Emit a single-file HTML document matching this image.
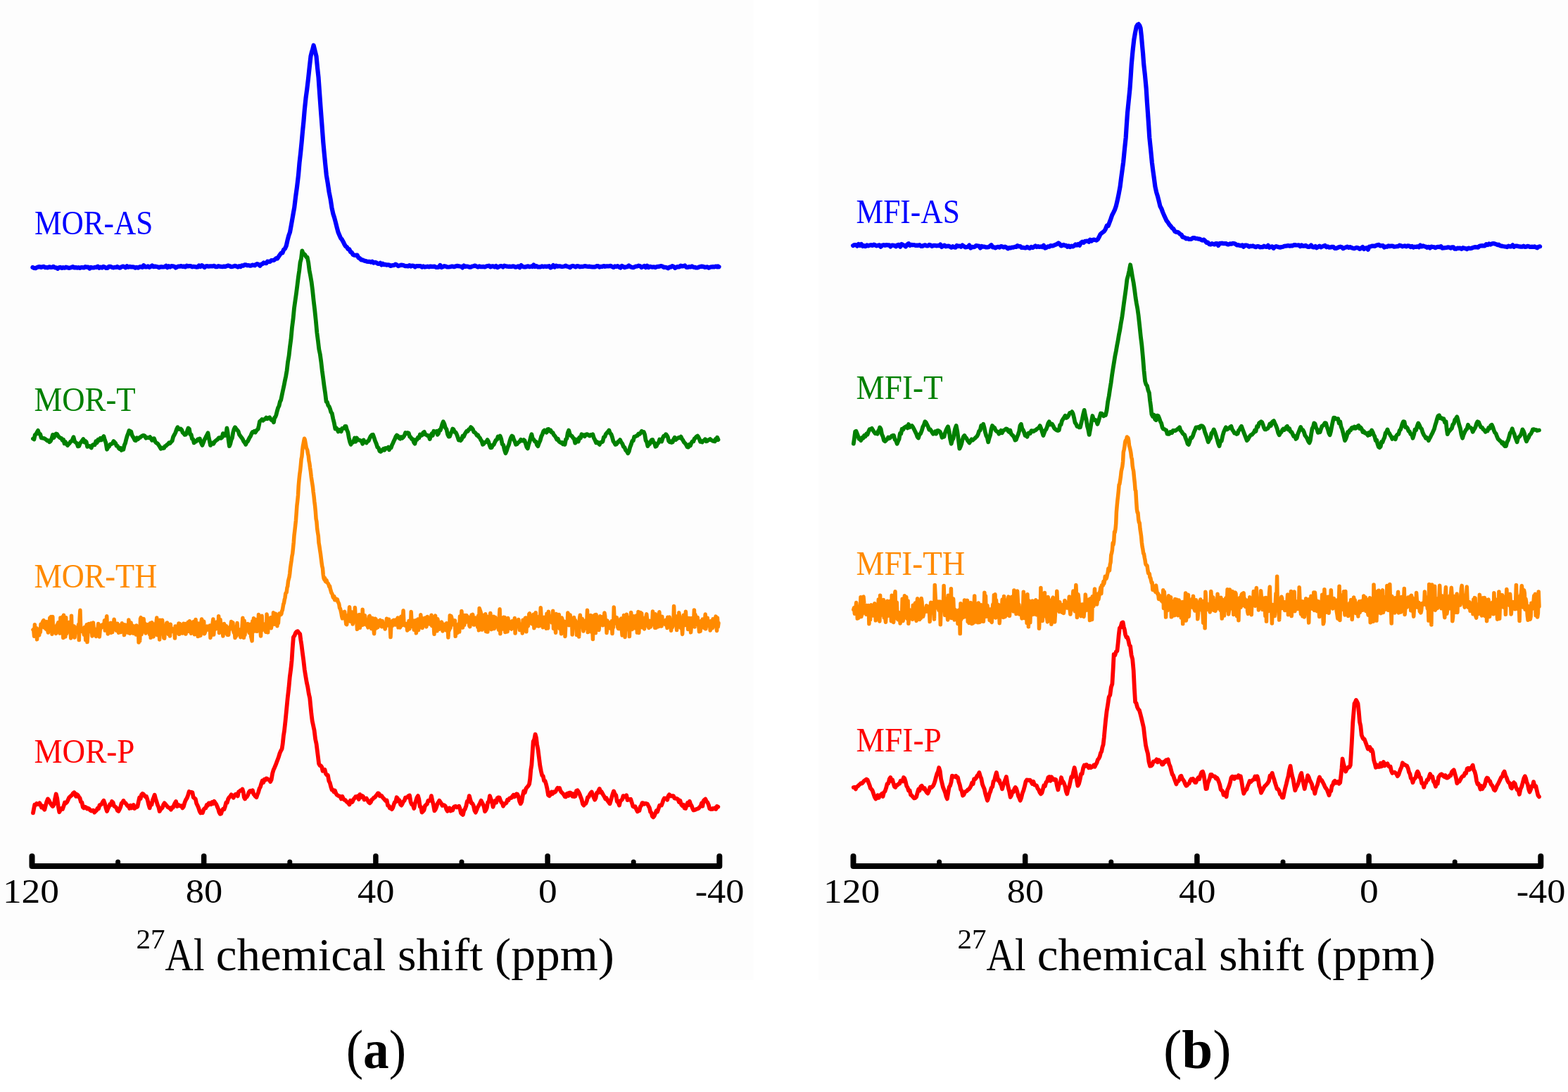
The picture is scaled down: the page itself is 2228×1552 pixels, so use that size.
<!DOCTYPE html>
<html><head><meta charset="utf-8"><title>27Al NMR spectra</title>
<style>html,body{margin:0;padding:0;background:#fff;}svg{display:block;}</style>
</head><body>
<svg width="2228" height="1552" viewBox="0 0 2228 1552" font-family='"Liberation Serif", "DejaVu Serif", serif'>
<rect width="2228" height="1552" fill="#fff"/>
<rect x="0" y="0" width="1071" height="1393" fill="#fdfdfd"/>
<rect x="1163" y="0" width="1065" height="1393" fill="#fdfdfd"/>
<g fill="none" stroke-linejoin="round" stroke-linecap="round">
<path d="M46.5,380 48.5,381 50.4,381.2 52.4,380.1 54.4,379.4 56.3,379.1 58.3,380 60.3,379.2 62.2,378.9 64.2,380.2 66.2,380.1 68.1,380.4 70.1,379.3 72.1,380 74,379.9 76,378.8 78,380.4 79.9,380.3 81.9,381.9 83.9,380.2 85.8,379.9 87.8,381 89.8,380.2 91.8,380.7 93.7,379.7 95.7,380.2 97.7,380.8 99.6,380.6 101.6,380.1 103.6,379.1 105.5,380.4 107.5,380.1 109.5,380.6 111.4,380.2 113.4,380.9 115.4,380 117.3,380.2 119.3,380.5 121.3,379.1 123.2,379.7 125.2,379.6 127.2,381.6 129.1,379.9 131.1,380.5 133.1,380.5 135,379.8 137,380 139,378.7 141,380.7 142.9,379.6 144.9,380.5 146.9,378.9 148.9,379.6 150.8,380.9 152.8,381 154.8,378.8 156.8,378.8 158.8,379.8 160.7,380.4 162.7,379.9 164.7,380 166.7,379 168.6,380.2 170.6,380.6 172.6,379.4 174.6,378.5 176.6,379.1 178.5,380.3 180.5,378.3 182.5,379.6 184.5,378.8 186.4,379.5 188.4,379.4 190.4,379.6 192.4,380.7 194.3,379.9 196.3,380.6 198.3,379.4 200.3,379.1 202.3,379.8 204.2,377.2 206.2,379.4 208.2,379.5 210.2,378.4 212.1,379.8 214.1,378.9 216.1,377.4 218.1,379.2 220.1,378.5 222,378.9 224,379.2 226,380.3 228,379.3 229.9,379.2 231.9,379.5 233.9,379.2 235.9,377.7 237.8,380.1 239.8,378.3 241.7,379.5 243.7,378.2 245.6,378.3 247.6,378.7 249.6,380.5 251.5,379.5 253.5,378.5 255.4,378.7 257.4,378 259.3,378.9 261.3,378.4 263.3,379.4 265.2,377.7 267.2,378.5 269.1,378.1 271.1,378.2 273.1,379.3 275,378.8 277,379.1 278.9,379.6 280.9,379.5 282.8,377.5 284.8,379 286.8,377.1 288.7,378.5 290.7,380 292.6,378.3 294.6,378.2 296.5,378.6 298.5,378.4 300.5,378.4 302.5,378.4 304.4,377.8 306.4,379.2 308.4,379.1 310.4,378.2 312.3,378.6 314.3,378.9 316.3,379.1 318.3,378.6 320.2,378.9 322.2,378.1 324.2,377.4 326.2,377.9 328.1,379.1 330.1,379 332.1,378.4 334.1,377.8 336,378.5 338,379.5 340,378.2 341.9,379.1 343.7,377.3 345.6,377.7 347.4,376.4 349.3,376.4 351.2,377.3 353,377 354.9,377.6 356.7,377.7 358.6,376.5 360.4,377 362.2,377.3 364,375.6 365.8,375 367.6,376.2 369.4,377.8 371.2,375.5 373,375.2 374.7,373.4 376.5,373.9 378.3,374.2 380,371.7 381.8,371.9 383.7,371.9 385.5,370.1 387.4,370 389.1,370 390.7,368.6 392.4,367.2 394,367.6 395.7,365 397.6,362.3 399.4,359.8 401.3,359.5 403.1,354.9 405,353.3 406.8,349.2 408.5,341.6 410.2,335 412,330 413.6,321.3 415.1,312.8 416.6,304.1 418.2,295.3 420.1,279.7 422.1,265.2 424,248.9 425.5,231.5 427.1,217.5 428.6,202.4 430,186.7 431.4,172.9 432.8,156 434.5,139.7 436.3,126.4 438,112 439.8,95.1 441.5,80 442.9,74.3 444.2,70.2 445.6,64.5 447.6,72.6 449.5,80 451,96 452.5,109.6 454.1,132.3 455.8,156 457.6,179.4 459.3,202.4 460.8,218.8 462.3,234.1 463.8,248.9 465.7,260.2 467.6,273 469.6,283 471.5,295.3 473.3,303.7 475.1,309.3 476.9,316 478.7,323.3 480.5,330 482.3,334.2 484.1,338.4 485.9,340.4 487.7,343.7 489.5,347.5 491.2,350.1 492.8,351.1 494.5,354 496.3,354.4 498.1,358.1 499.8,358.9 501.6,361.8 503.4,362.6 505.4,362.9 507.4,362.5 509.4,366.2 511.4,367.3 513.4,369.5 515.4,369.4 517.4,370.4 519.3,370.9 521.3,371.7 523.3,371.9 525.2,371.9 527.1,372.6 528.9,371.7 530.8,373.5 532.7,372.8 534.6,373.3 536.4,374.6 538.3,375 540.2,373.8 542.1,376.5 543.9,374.7 545.8,376.2 547.7,375.8 549.5,376.7 551.2,376.3 553,376.5 554.7,377.9 556.5,377.4 558.2,377.2 560,377 562,375.6 564,376.5 565.9,378.1 567.9,377.4 569.9,376.6 571.9,376.9 573.9,377.3 575.8,378.1 577.8,378 579.8,378.5 581.8,377.1 583.8,378.6 585.8,377.5 587.7,377.8 589.7,379.5 591.7,378.2 593.7,378.1 595.7,378.1 597.6,378 599.6,379.7 601.6,378.5 603.6,379.6 605.6,379.1 607.6,378.7 609.5,379.3 611.5,378.5 613.5,378.9 615.5,378.8 617.5,378.6 619.5,379.8 621.4,379.9 623.4,379.6 625.4,377 627.4,380 629.4,379.1 631.4,378.2 633.3,378.5 635.3,379.5 637.3,379.5 639.3,379.2 641.3,378.7 643.3,378.6 645.2,379.2 647.2,378.5 649.2,377.9 651.2,378.1 653.2,378.5 655.2,378.8 657.2,380.4 659.1,377.5 661.1,379 663.1,378.5 665.1,378.8 667.1,379.7 669.1,379.6 671,378.5 673,378.2 675,377.5 677,378.6 679,379.6 681,378.4 682.9,379.2 684.9,379.2 686.9,378.9 688.9,379.5 690.9,378.5 692.9,378 694.8,377.7 696.8,379.4 698.8,378.4 700.8,378.4 702.8,379.3 704.8,378 706.8,380.1 708.7,379.2 710.7,378.2 712.7,378.2 714.7,379.5 716.7,377.7 718.7,378.2 720.6,378.7 722.6,378.8 724.6,378.7 726.6,379 728.6,378.4 730.6,378.6 732.5,379.7 734.5,379.2 736.5,378.3 738.5,380.1 740.5,377.1 742.5,378.8 744.4,379.3 746.4,379.5 748.4,378.8 750.4,378.4 752.4,379.2 754.4,378.6 756.4,379.1 758.3,376.5 760.3,379 762.3,378.1 764.3,379.5 766.3,379.3 768.3,379.3 770.2,378.4 772.2,379.1 774.2,378.5 776.2,378.9 778.2,378.7 780.2,378.1 782.1,380.4 784.1,379.4 786.1,377.1 788.1,379.5 790.1,377.7 792.1,378.6 794,378.3 796,378.4 798,379 800,378.8 802,378.5 804,377.7 806,378.8 808,379.1 810,380.2 811.9,378.5 813.9,377.9 815.9,378.5 817.9,379.4 819.9,378.1 821.9,378.3 823.9,379.3 825.9,378.9 827.9,379 829.9,378.4 831.9,378.2 833.8,378.6 835.8,378.8 837.8,378.6 839.8,379.2 841.8,379.3 843.8,379.3 845.8,379.3 847.8,378.2 849.8,378 851.8,379.6 853.8,378.9 855.7,379 857.7,378 859.7,378.8 861.7,378.4 863.7,378.3 865.7,378.4 867.7,377.8 869.7,379 871.7,379.9 873.7,378.4 875.7,379 877.6,378.1 879.6,379.5 881.6,380.5 883.6,378 885.6,378.8 887.6,380.1 889.6,379.3 891.6,379.1 893.6,377.4 895.6,378.9 897.6,379.8 899.5,380.2 901.5,379.5 903.5,378.6 905.5,378.5 907.5,377.6 909.5,378.2 911.5,380 913.5,379 915.5,378 917.5,380.1 919.5,377.7 921.4,380.1 923.4,378.8 925.4,379.4 927.4,379.6 929.4,379.3 931.4,380.1 933.4,379.1 935.4,378.8 937.4,378.6 939.4,378 941.4,378.6 943.3,379.9 945.3,379.8 947.3,380.2 949.3,381.3 951.3,379.7 953.3,379.6 955.3,378.1 957.3,379 959.3,380.9 961.3,379.6 963.3,379.1 965.2,379.4 967.2,377.7 969.2,378.5 971.2,378.1 973.2,377.5 975.2,379.8 977.2,380 979.2,379.1 981.2,379.5 983.2,378.4 985.2,379.6 987.1,379.8 989.1,380.5 991.1,380.5 993.1,379.6 995.1,379.1 997.1,378.6 999.1,378.8 1001.1,379.8 1003.1,379.7 1005.1,379.3 1007.1,380.6 1009,379.8 1011,379.3 1013,379.1 1015,379.4 1017,378.5 1019,379.3 1020.2,378.5 1021.5,379.2" stroke="#0000ff" stroke-width="6.2"/>
<path d="M47,623.5 48.4,624.5 49.8,617.9 51.2,617.1 52.6,614.4 54,611.9 55.6,616.6 57.1,616.9 58.7,622.4 60.2,622.5 61.6,622.8 63,623.1 64.5,624.1 66,625.3 67.4,626.3 68.8,626.2 70.3,628.2 71.9,626.8 73.4,623.5 75,617.9 76.6,622.1 78.1,617.9 79.7,616.5 81.2,617 82.7,619.9 84.1,621.3 85.6,622.5 87.1,622.8 88.6,625.7 90.1,624.8 91.6,630.4 93,628.1 94.5,631.1 96,632.9 97.4,631.3 98.8,629.9 100.2,627.6 101.6,627 103,624.7 104.5,621.2 106.1,627.5 107.7,628.9 109.2,630.1 110.8,634.4 112.3,634 113.9,629.8 115.4,628.3 117,625.9 118.4,624 119.8,628.4 121.3,626.9 122.7,628.2 124.1,634.9 125.5,633.7 127,633.9 128.4,635.3 129.8,636.4 131.4,632.7 133,631.7 134.6,632.3 136.2,627.3 137.8,629.1 139.4,624.8 141,625.9 142.6,622.7 144.2,625.3 145.8,622.7 147.4,620 148.9,625.3 150.5,629.6 152,638.7 153.6,635.5 155.1,634.5 156.7,631.3 158.3,631.1 159.8,630.2 161.4,627 162.8,628.6 164.2,630 165.6,633.6 167,633.9 168.4,636.4 169.8,637.9 171.2,636.7 172.6,639.9 174,637.7 175.4,638.7 176.8,632.5 178.1,629.7 179.4,624.2 180.8,619.3 182.2,616 183.5,611.9 184.9,615.1 186.2,613.3 187.6,618.7 189,620.8 190.3,623.2 191.7,625.9 193.1,626.1 194.5,622.3 196,624.3 197.4,622.3 198.8,622 200.2,620.7 201.7,619.8 203.1,618.8 204.5,618.9 205.9,619.8 207.4,622.7 208.8,621.8 210.2,622 211.7,622.1 213.1,621.1 214.5,623.2 216,625.8 217.4,623.5 219,623.1 220.6,627.8 222.2,629.6 223.8,630.2 225.4,632.5 227,635 228.6,637.8 230.2,636.4 231.6,637.2 233,636.8 234.5,634 235.9,633.8 237.3,632 238.7,631.3 240.2,629.3 241.6,630 243,628.2 244.6,626.7 246.1,620.9 247.7,618 249.3,615 250.8,610.6 252.4,607.2 253.8,609.8 255.3,610.1 256.8,609.4 258.2,610.9 259.6,614.7 261.1,615.9 262.6,617.9 264,617.7 265.2,614.9 266.3,611.7 267.5,608.4 268.9,609.6 270.2,617.3 271.6,617.5 273,623.8 274.3,624.2 275.7,629.4 277.1,627.4 278.4,627.6 279.8,625.8 281.2,624.4 282.5,625.7 283.9,623.5 285.1,627.5 286.2,630.3 287.4,632.9 288.8,629.5 290.1,625.9 291.4,623.4 292.8,620.5 294.1,618.2 295.5,615.4 296.7,622.3 297.8,626.8 299,632.9 300.5,630.4 301.9,629.4 303.4,630.7 304.9,627.9 306.3,626.6 307.8,625.4 309.2,624.5 310.7,622.4 312.2,622 313.8,622.9 315.4,621.8 316.9,616.1 318.4,619.3 320,618.9 321.2,617.8 322.4,608.4 323.6,615.1 324.7,625.6 325.9,634 327.2,631 328.6,625.1 329.9,622.5 331.3,614.3 332.6,609.9 334,607.2 335.5,609.4 337,611.1 338.6,613 340.1,617.8 341.6,619.8 343.1,621.9 344.6,623.8 346.2,627.2 347.7,629.1 349.2,631.7 350.6,628.1 351.9,627.4 353.3,624.6 354.7,621.7 356,620 357.4,616.5 358.8,614 360.1,614.4 361.4,612.9 362.8,614.5 364.1,612.4 365.5,610.7 366.7,609.8 367.8,605.1 369,599 370.6,597.8 372.1,596.2 373.7,597.7 375.2,596 376.8,595.6 378.3,593.6 379.9,595.3 381.4,594.1 383,593.2 384.5,595.5 385.9,597.1 387.4,597.2 388.9,600.2 390.1,593.6 391.2,592.8 392.4,589.7 393.8,584.1 395.1,579.6 396.5,577 397.9,570.9 399.2,568.5 400.6,561.7 402,555 403.4,548.7 404.8,541.4 406.2,534.8 407.6,526.7 409.1,513.9 410.5,506.1 411.9,493.6 413.4,482.4 414.9,466.2 416.5,453.7 418,438 419.5,427.4 420.9,417.7 422.4,405.8 423.9,393.7 425.2,384.9 426.6,372.7 427.9,368 429.3,356.3 430.8,360.3 432.3,361.1 433.7,362.6 435.2,365.5 436.7,365.7 438.2,373.2 439.6,384.2 441.1,392 442.6,400.7 444.1,412.5 445.7,427.7 447.2,440.4 448.8,455.7 450.3,472.3 451.9,484.7 453.3,496.5 454.8,503.5 456.2,513.5 457.7,526.7 459.2,537.7 460.6,548.6 462.1,558.6 463.6,571 465,571.7 466.3,576.2 467.6,577.6 469,581 470.4,585.9 471.7,587.4 473.3,595.1 474.8,601.1 476.4,609.5 477.8,608.4 479.2,610.2 480.6,613.4 482,610.7 483.4,611.9 484.8,613.3 486.1,608.8 487.5,608.7 488.9,608.9 490.2,605.9 491.6,606 493,611.2 494.4,614.4 495.8,622.3 497.2,628.2 498.6,631.7 500,629.2 501.3,628.9 502.6,626.5 504,622.5 505.4,627.8 506.7,622.4 508.1,624.2 509.5,625.4 511,625.7 512.4,626.3 513.8,627 515.2,630.8 516.6,625.4 517.9,628 519.3,628.3 520.7,629.4 522.2,627.2 523.8,626.5 525.4,622.5 526.9,619.7 528.5,618.1 530,617.7 531.6,622.2 533.1,626.8 534.7,630.5 536.3,635.5 537.8,636.4 539.4,641 540.8,641.9 542.1,640.9 543.5,639.2 544.9,637.9 546.3,639.7 547.6,637 549,637.4 550.3,636.8 551.7,635.6 553,639.2 554.4,636.4 555.7,636.3 557,632.5 558.4,629.7 559.7,626.6 561.1,623.9 562.4,620.6 563.9,618.6 565.4,619.7 566.9,622.4 568.4,623.6 569.9,621 571.4,622.8 573,621.4 574.6,618.9 576.1,614.9 577.7,616.1 579.3,615 580.7,615.7 582.2,620.7 583.6,621.4 585.1,623.9 586.5,624.2 588,628.7 589.4,630.7 590.9,625 592.4,625 593.9,621.7 595.4,622.3 596.9,617.4 598.3,619 599.8,618.5 601.3,614.9 602.8,613.9 604.4,617.5 606,618.1 607.5,619.3 609.1,619.2 610.7,624 612.1,619.7 613.5,616.3 614.9,618.9 616.3,612.7 617.6,613.7 619,613.8 620.3,612.8 621.7,617.8 623,616.1 624.4,611.1 625.7,611.5 627.1,607.5 628.4,602.8 629.8,599.3 631.4,602.6 632.9,607.8 634.5,610.2 636,617.2 637.6,620.6 639,620.2 640.4,616.2 641.8,613.7 643.2,609.4 644.6,610.5 646,614 647.4,614.3 648.9,617.2 650.3,620.9 651.7,625.5 653.1,624.2 654.5,626.2 656,624.3 657.4,619.7 658.9,620.7 660.3,617.3 661.8,614.7 663.2,612.7 664.6,613 666.1,610.4 667.5,610 669,607.1 670.4,608.4 671.9,610.3 673.3,614 674.8,614.6 676.2,616.2 677.7,618.8 679.1,618.3 680.5,621.3 681.8,622.3 683.2,625.3 684.5,626.9 685.9,631.8 687.2,631 688.6,628.6 689.9,628.5 691.3,627.6 692.6,625.1 694.1,627.7 695.6,632.8 697.1,636.3 698.6,636.2 700.1,632.7 701.6,632 703.1,628.6 704.6,625.6 706.1,624.8 707.6,620.6 709.1,622.4 710.6,619.5 712.2,623.7 713.7,631.3 715.3,632.6 716.8,639.4 718.4,644.2 719.9,640.6 721.4,635.7 722.9,632.4 724.4,626.7 725.9,622.1 727.4,619.5 728.8,620.6 730.2,624.9 731.6,627.6 733,631.8 734.4,631.3 735.8,629.6 737.2,628.4 738.6,627.4 740,624.9 741.4,626.3 742.8,626.5 744.2,625.1 745.6,626.3 747,630.9 748.4,635.3 749.8,637.4 751.2,631.4 752.6,627.6 754,621.6 755.4,617.2 756.9,623.5 758.4,624.8 759.9,627.3 761.4,627.5 762.9,632.2 764.4,634.1 766,629.6 767.6,626.1 769.1,620.4 770.7,617.2 772.3,612.7 773.7,611.5 775.2,612.8 776.6,614.7 778.1,610.1 779.5,610 781,612.5 782.4,611.6 783.9,614.6 785.4,614.8 786.9,618 788.4,619.7 789.8,621.7 791.3,624.8 792.8,623.7 794.3,627.5 795.8,628.4 797.2,629.4 798.5,628.8 799.9,631.2 801.2,629.3 802.6,631.8 804,624.6 805.4,623.2 806.8,615.1 808.2,611.6 809.7,617 811.2,619.1 812.7,619.9 814.2,622.3 815.7,623.4 817.2,629.6 818.7,628.1 820.3,624.4 821.8,627.6 823.4,621.6 824.9,622.6 826.4,617.2 828,619.2 829.5,618.3 830.9,620.2 832.3,617.7 833.7,617.1 835.1,617.6 836.5,618.8 837.9,619.6 839.3,618 840.7,618.3 842.3,617.3 843.9,622.6 845.5,625.5 847.1,629.3 848.7,628.2 850.3,630.1 851.9,631.8 853.4,628.8 854.9,628.4 856.4,627.6 857.9,621.4 859.4,620.7 860.9,616.8 862.4,615.1 863.9,613.6 865.4,611.6 866.9,615.7 868.4,617.1 869.9,621.3 871.4,627 872.9,629.1 874.4,631.8 875.7,631.5 877.1,629.7 878.4,627.5 879.8,627 881.1,625.1 882.7,628.6 884.3,630.5 885.9,634.7 887.5,636 889.1,640 890.7,641.5 892.3,644.2 893.8,641.3 895.3,635.4 896.8,631.6 898.3,626.8 899.8,626.2 901.3,620.6 902.8,620.6 904.3,619.4 905.8,619.2 907.3,616.4 908.8,617 910.3,615.4 911.8,612.7 913.3,614.3 914.8,613.9 916.2,617.7 917.6,626 919,628 920.4,634.1 921.8,631 923.2,631 924.6,627.3 926,625.1 927.3,625 928.7,629 930,629.4 931.4,634.7 932.7,634.1 934.2,630.7 935.7,629.3 937.2,624.5 938.7,625.6 940.2,627.4 941.7,622.6 943.2,619.6 944.7,619.5 946.2,617.2 947.5,618.8 948.9,621.2 950.2,626.8 951.6,628.2 952.9,627.3 954.4,628.9 955.8,628.3 957.3,624 958.7,621.8 960.2,625 961.7,623.8 963.1,622.7 964.6,621.8 966,622.3 967.5,620.6 969,623.8 970.5,625.8 972,628.6 973.5,630 975,632.2 976.5,635.2 978,635.6 979.4,631.7 980.9,633.3 982.3,629.8 983.8,627.4 985.3,627.4 986.7,623.5 988.2,622.4 989.6,620.6 991.1,619.5 992.4,621.3 993.8,624 995.1,627.8 996.5,627.4 997.8,628.4 999.2,626.3 1000.6,626.1 1002,624.2 1003.4,627.2 1004.8,626.9 1006.2,625.6 1007.6,625.1 1009,624 1010.4,625.4 1011.7,625.9 1013.1,626.9 1014.4,627 1015.8,627.3 1016.9,624 1018,624.9 1019.1,621.7 1020.5,625" stroke="#008000" stroke-width="5.8"/>
<path d="M47,895 47.8,895.7 48.6,904.3 49.4,887.8 50.2,902.2 51,892.8 51.8,892.7 52.6,908.8 53.4,895.7 54.1,894.1 54.9,899.9 55.7,902.8 56.5,894 57.3,898.6 58.1,886.9 58.9,891.3 59.7,890.8 60.5,884 61.3,882.6 62.1,881.7 62.9,892 63.7,892.4 64.5,891.3 65.3,894.1 66.1,883.5 66.8,892.9 67.6,895.2 68.4,899 69.2,887 70,890.3 70.8,878.1 71.6,889.4 72.4,876.6 73.2,882.4 74,901.2 74.8,876.4 75.6,898.8 76.4,895.2 77.2,890.4 78,896.1 78.8,896.6 79.6,900.4 80.3,890.8 81.1,888 81.9,887.8 82.7,884.9 83.5,891.9 84.3,886.3 85.1,900.1 85.9,878 86.7,892 87.5,883.9 88.3,885 89,876.5 89.8,906.5 90.6,874.3 91.4,890.3 92.1,888.5 92.9,905 93.7,877.7 94.5,900.7 95.2,887.2 96,891.6 96.8,887.8 97.6,897.7 98.3,884.5 99.1,892.5 99.9,895.8 100.7,907 101.5,875.2 102.2,904.8 103,900.5 103.8,889.8 104.6,895.8 105.3,890.1 106.1,906 106.9,895.3 107.7,892.2 108.4,892.2 109.2,892.4 110,894 110.8,892.7 111.6,887.5 112.3,909.6 113.1,879.9 113.9,867.3 114.7,893.5 115.4,893.4 116.2,897.3 117,893.1 117.8,893.6 118.5,897.2 119.3,902.1 120.1,891.5 120.9,892.1 121.7,909.6 122.4,899 123.2,887.7 124,912.6 124.8,901.1 125.5,890.9 126.3,886.6 127.1,897.7 127.9,889.3 128.6,887.7 129.4,885.9 130.2,891.9 131,904.1 131.7,892.6 132.5,885.1 133.3,896 134.1,900.9 134.9,896.2 135.7,901.9 136.5,904.5 137.3,894.1 138.1,894.1 138.9,894.7 139.7,886.4 140.5,899.8 141.3,905 142.1,895.9 142.9,892.6 143.7,892.3 144.5,888.3 145.3,888 146.1,890.9 146.9,887.4 147.7,890.4 148.5,881.7 149.3,896 150.1,893.6 150.9,884.5 151.7,875.7 152.5,892.8 153.3,901 154.1,887.1 154.9,888.8 155.7,888.1 156.5,897.1 157.3,885.2 158.1,899.3 158.9,889.5 159.7,898.6 160.5,891.8 161.3,889.7 162.1,880.2 162.9,886 163.7,891 164.5,889.2 165.3,896.2 166.1,893.3 166.9,886.3 167.7,894.8 168.5,899.3 169.3,890.9 170.1,888.9 170.9,889.3 171.7,898.5 172.5,896.6 173.3,885.7 174.1,895.7 174.9,889.4 175.7,887.5 176.5,902.6 177.3,899.6 178.1,888.1 178.9,894.3 179.7,897.6 180.5,889.2 181.3,893.2 182.1,899.3 182.9,881 183.7,897 184.5,900.3 185.3,898.6 186.1,884.9 186.9,897.5 187.7,888.8 188.5,899.7 189.3,900.1 190.1,897.3 190.9,890.1 191.7,896 192.5,891.4 193.3,902.1 194,888.9 194.8,899.2 195.6,899.2 196.4,893.1 197.1,913 197.9,895.5 198.7,910.9 199.5,879.5 200.2,877.7 201,901.8 201.8,899 202.6,891.8 203.3,893.6 204.1,879.6 204.9,889 205.7,885.8 206.5,891.8 207.2,900 208,893.6 208.8,895.9 209.6,887.7 210.3,889.5 211.1,893.5 211.9,890.4 212.7,901.9 213.4,885.7 214.2,906.3 215,892 215.8,884.8 216.6,900.2 217.3,886.6 218.1,904.9 218.9,893.7 219.7,895.8 220.5,898.5 221.2,888.3 222,885.4 222.8,878.1 223.6,902.6 224.4,888.4 225.1,889.3 225.9,893.6 226.7,908.9 227.5,881.2 228.3,896.1 229,891.4 229.8,898.5 230.6,881.2 231.4,891.8 232.2,901.2 232.9,906.8 233.7,907.2 234.5,888.9 235.3,895.9 236.1,894.8 236.8,885.4 237.6,885.1 238.4,896 239.2,901.4 239.9,897.3 240.7,894.1 241.5,904.1 242.3,887.2 243,898.3 243.8,894.2 244.6,893.4 245.4,897.3 246.1,894.7 246.9,895.1 247.7,894.8 248.5,907.1 249.2,889.9 250,892 250.8,899.7 251.6,896.8 252.3,889.7 253.1,898.4 253.9,886.1 254.7,901.3 255.5,886.6 256.2,889.1 257,895.3 257.8,899.2 258.6,899.9 259.4,899.9 260.1,891.7 260.9,886.2 261.7,897.6 262.5,895.9 263.3,886.6 264,901.1 264.8,895.4 265.6,886.8 266.4,897.4 267.2,884.3 267.9,887.7 268.7,897.4 269.5,882.8 270.3,894.9 271.1,884.6 271.8,900.3 272.6,889.4 273.4,895 274.2,896.3 275,883.5 275.7,892.1 276.5,901.7 277.3,897.9 278.1,880.6 278.8,901.2 279.6,900.9 280.4,891.3 281.2,904.6 281.9,886 282.7,893.2 283.5,902.1 284.3,903.4 285,903.1 285.8,885.2 286.6,879.9 287.4,896.1 288.2,882.4 288.9,892 289.7,883.3 290.5,900.8 291.3,898.7 292,896.8 292.8,892.6 293.6,892.7 294.4,890.1 295.1,895.1 295.9,894 296.7,892 297.5,895.5 298.3,888.9 299,906.4 299.8,894.4 300.6,902.8 301.4,902.4 302.1,885.9 302.9,879.9 303.7,902 304.5,889.8 305.2,893.3 306,890.9 306.8,893.8 307.6,884 308.4,892.2 309.1,889.6 309.9,893 310.7,875.7 311.5,899.4 312.2,895.8 313,880.4 313.8,888 314.6,893.8 315.3,898.3 316.1,893.7 316.9,904.1 317.7,894 318.4,886.4 319.2,888.9 320,894 320.8,899.7 321.6,889.7 322.3,900.7 323.1,902.2 323.9,899 324.7,902.4 325.5,893.6 326.2,894.9 327,890.7 327.8,890.7 328.6,883.6 329.4,891.3 330.1,887.6 330.9,885 331.7,897 332.5,899.4 333.2,893.6 334,906.5 334.8,903.4 335.6,904.3 336.4,892.1 337.1,885.6 337.9,901.1 338.7,897 339.5,899.1 340.3,902.1 341,899.6 341.8,905.7 342.6,893.9 343.4,900.9 344.1,889 344.9,878.2 345.7,892 346.5,906.3 347.2,882.3 348,902.3 348.8,889.4 349.6,891.3 350.3,894.5 351.1,895.5 351.9,886.5 352.7,894.5 353.4,896.7 354.2,899.5 355,893 355.8,887.3 356.6,904.6 357.3,907.2 358.1,910.9 358.9,882.7 359.7,894 360.5,878.8 361.2,895.5 362,896.8 362.8,884 363.6,880.6 364.4,893.9 365.1,897.2 365.9,886.5 366.7,890.4 367.5,873.4 368.2,887 369,893.4 369.8,893.3 370.6,904 371.4,883.6 372.1,875.2 372.9,895.4 373.7,892 374.5,886.6 375.2,892.3 376,894.6 376.8,892.8 377.6,898.2 378.4,896.6 379.1,873.1 379.9,884.2 380.7,898.8 381.4,879.8 382.2,889.2 383,881 383.8,880.5 384.6,877.7 385.3,892.7 386.1,888.5 386.9,878.8 387.7,887.4 388.5,870.7 389.2,875 390,887.2 390.8,880.6 391.6,872.3 392.4,883.6 393.1,882.6 393.9,889.7 394.7,880 395.4,885.7 396.2,875 396.9,872 397.6,873.2 398.4,872.4 399.1,873.5 399.9,872.2 400.6,868.4 401.3,867.3 402.1,862.6 402.8,858.5 403.5,857 404.3,852 405,849.7 405.8,843.6 406.5,842.3 407.2,841.9 408,835 408.7,833.4 409.5,826 410.3,822.8 411,820.3 411.8,814.8 412.6,806.9 413.4,801.5 414.1,796.9 414.9,790.5 415.7,786.7 416.5,779 417.3,770.7 418,761.1 418.8,754.7 419.6,747.4 420.4,740 421.2,729 421.9,718.9 422.7,712.2 423.5,704 424.2,691 425,681.7 425.8,674.1 426.6,668.5 427.4,660.4 428.1,652.5 428.9,648.8 429.7,639.7 430.4,634 431.1,630.4 431.8,626.4 432.5,623.3 433.2,624.7 433.9,628.4 434.6,632.4 435.3,636.4 436,638 436.7,639.7 437.5,644.8 438.3,647.9 439,654.8 439.8,658.5 440.6,664.8 441.4,670 442.2,677.3 442.9,682 443.7,687.2 444.5,692.2 445.2,699.1 446,705 446.8,712.9 447.6,719.2 448.4,727.6 449.1,737.5 449.9,741.4 450.7,751.7 451.5,756.9 452.3,761.6 453,771.5 453.8,775.9 454.6,781.6 455.4,786.7 456.2,793.1 456.9,798.8 457.7,804.6 458.5,807.7 459.2,816.3 460,821.7 460.8,823.6 461.6,821.6 462.3,826 463.1,826.8 463.9,824.6 464.7,827.2 465.4,828.5 466.2,829.2 467,831 467.8,833.7 468.6,833.2 469.3,836.9 470.1,839.6 470.9,842.5 471.7,843.5 472.4,845.2 473.2,848.7 474,849.7 474.8,847.5 475.6,852.7 476.3,851.6 477.1,850.9 477.9,852.9 478.7,851.6 479.4,852.1 480.2,855.4 481,856.7 481.8,858.8 482.6,864.2 483.4,865 484.1,867.6 484.9,871.3 485.7,876 486.5,878.9 487.2,876.7 488,872.4 488.8,869.9 489.6,869.4 490.4,876.8 491.1,881.5 491.9,887.3 492.7,887.6 493.4,881.4 494.2,874.7 495,880 495.8,873.6 496.6,862.7 497.3,872.5 498.1,883.3 498.9,877.6 499.7,883 500.5,870.1 501.2,887 502,882.5 502.8,880.6 503.6,883.4 504.4,863.6 505.1,876.3 505.9,873.7 506.7,880.5 507.5,894.3 508.3,879.5 509,877.3 509.8,887.7 510.6,873.5 511.4,892.3 512.1,876.6 512.9,881.6 513.7,875.3 514.5,888.5 515.2,866.3 516,888 516.8,876.8 517.6,883.5 518.4,874.7 519.1,885.3 519.9,885.1 520.7,888.3 521.5,886.5 522.2,889 523,891.9 523.8,881.8 524.6,876 525.3,875.5 526.1,890.4 526.9,882.6 527.7,893.5 528.4,886.2 529.2,878.4 530,886.2 530.8,893 531.6,900.8 532.3,884.9 533.1,879.2 533.9,879.9 534.7,892.9 535.5,881.9 536.2,883.2 537,891.4 537.8,886.4 538.6,887.2 539.4,882.2 540.1,881.5 540.9,887.6 541.7,887.5 542.5,890.8 543.3,882.6 544,889 544.8,890 545.6,887 546.4,890.7 547.2,894 547.9,887.9 548.7,887 549.5,879.2 550.3,888.9 551.1,885.8 551.8,884.2 552.6,880.3 553.4,886.5 554.2,890.8 555,905.6 555.8,889.7 556.6,887 557.4,889.6 558.1,881.9 558.9,887 559.7,881.3 560.5,881.4 561.3,888 562.1,887.9 562.9,885.3 563.7,880.2 564.5,888.1 565.2,877.9 566,891.8 566.8,883.4 567.6,886 568.4,891.9 569.2,890.1 570,876.2 570.8,884 571.6,888.6 572.4,877.7 573.1,867.8 573.9,885.2 574.7,885.4 575.5,888.9 576.3,886.3 577.1,886.7 577.9,887.4 578.7,895.9 579.5,889.2 580.3,889.6 581,882.6 581.8,893.9 582.6,884.1 583.4,891 584.2,869.6 585,885.4 585.8,887.3 586.6,884.7 587.4,882.1 588.2,895.2 589,888.6 589.8,884.6 590.6,881.7 591.4,899.8 592.2,891.3 593,890.7 593.8,880.1 594.6,895.6 595.4,890.1 596.2,883.9 597,885.2 597.8,873.8 598.6,890.9 599.4,877.9 600.2,892.4 601,882.9 601.8,881.5 602.6,889 603.4,887.8 604.2,877.9 605,885.8 605.8,890.9 606.6,884.5 607.4,876.4 608.2,884.7 609,879.3 609.8,882.2 610.6,887 611.4,886.2 612.2,885.1 613,874.3 613.8,889.4 614.6,885.3 615.4,883.8 616.2,888 617,901.3 617.8,877.3 618.6,875 619.4,892.7 620.2,881.2 621,896.8 621.8,879.8 622.6,883.5 623.4,893.4 624.2,894 625,890.6 625.8,890.7 626.6,886.4 627.4,884.1 628.2,885.9 629,896.9 629.8,887.5 630.6,892.7 631.4,887.4 632.2,889.5 633,893.2 633.8,895.8 634.5,885.8 635.3,886.1 636.1,889.1 636.9,905.9 637.7,888.2 638.5,895.7 639.3,874.7 640.1,892.4 640.9,875.4 641.7,877.7 642.4,881 643.2,884.5 644,886.8 644.8,888.1 645.6,886.9 646.4,881.9 647.2,904.3 648,887.8 648.8,889.8 649.6,899.7 650.3,891.8 651.1,888.8 651.9,886.7 652.7,898.1 653.5,876.1 654.3,876.9 655.1,885 655.9,868.6 656.7,877.9 657.5,892 658.2,880 659,884.6 659.8,888.4 660.6,874.4 661.4,885 662.2,878.2 663,874.6 663.8,880.6 664.6,882.1 665.4,879.5 666.1,877.4 666.9,889.3 667.7,890.7 668.5,886.1 669.3,881.1 670.1,873.9 670.9,875.5 671.7,873.3 672.5,883 673.3,888.1 674,888 674.8,880.9 675.6,878.1 676.4,882.2 677.2,881.6 678,885 678.8,891.5 679.6,875.3 680.4,895.8 681.2,864.6 681.9,866.8 682.7,868.7 683.5,872.2 684.3,878 685.1,895 685.9,879.5 686.7,874.5 687.5,888.1 688.2,877.4 689,881.4 689.8,872.8 690.6,897.5 691.4,880.5 692.2,876.4 692.9,898.1 693.7,882.7 694.5,884.6 695.3,880.7 696.1,875.8 696.8,871.5 697.6,881 698.4,894.5 699.2,885.8 700,881.6 700.7,890.9 701.5,876.3 702.3,893.6 703.1,883.5 703.9,877.6 704.7,889 705.4,888 706.2,881.8 707,886.1 707.8,892 708.6,895.3 709.3,878.8 710.1,865.7 710.9,900.7 711.7,883.7 712.5,882.7 713.2,889.2 714,883 714.8,894.1 715.6,877.3 716.4,885.2 717.2,877.6 717.9,898.5 718.7,885.5 719.5,887.5 720.3,895.6 721.1,897.7 721.9,878.5 722.7,885.7 723.4,892.7 724.2,887.7 725,886.2 725.8,893.5 726.6,894 727.4,882.7 728.2,886.1 729,891.9 729.7,888.6 730.5,888 731.3,878.6 732.1,900 732.9,885.2 733.7,888.8 734.5,886.5 735.3,887.2 736,887.8 736.8,880.5 737.6,889.5 738.4,895.6 739.2,889.6 740,891.9 740.8,890.1 741.6,886.7 742.3,899.9 743.1,881.3 743.9,889.2 744.7,894 745.5,888.5 746.3,878.4 747.1,878.1 747.9,897.8 748.6,879 749.4,886.2 750.2,890.1 751,886.7 751.8,872.8 752.6,871.8 753.4,885.1 754.2,880.1 754.9,883.9 755.7,886.5 756.5,887 757.3,875.8 758.1,873.2 758.9,892.7 759.7,880.9 760.5,876.9 761.2,870.7 762,889.5 762.8,876.1 763.6,877.6 764.4,885.4 765.2,890 766,887.6 766.8,889.5 767.6,875.8 768.3,863.8 769.1,877.8 769.9,882.9 770.7,880.1 771.5,891.7 772.3,887.7 773.1,877.2 773.9,889.1 774.6,883.8 775.4,881.2 776.2,893.2 777,872.3 777.8,892.4 778.6,892.8 779.4,869.3 780.2,883.2 780.9,883.3 781.7,876.1 782.5,880.2 783.3,878.4 784.1,884.9 784.9,880.2 785.7,868.3 786.5,893.2 787.2,890.9 788,878 788.8,890.7 789.6,899.2 790.4,872.5 791.2,881 792,880.1 792.8,888.1 793.5,881.6 794.3,873.4 795.1,893.2 795.9,881.4 796.7,889.2 797.5,900.8 798.3,878.1 799.1,880.5 799.8,890.4 800.6,882.7 801.4,887.4 802.2,883.4 803,904.4 803.8,888.1 804.6,885.9 805.4,884.2 806.1,886.2 806.9,871 807.7,881.2 808.5,888.7 809.3,883.1 810.1,874.1 810.9,883.5 811.7,882.5 812.5,879.4 813.2,902 814,888.7 814.8,885.9 815.6,877.5 816.4,884.1 817.2,881.3 818,882.9 818.8,885.2 819.5,902.4 820.3,893.7 821.1,896.5 821.9,894.1 822.7,905 823.5,878.9 824.3,874.2 825.1,885.5 825.8,885.9 826.6,884.3 827.4,879.4 828.2,889.2 829,897.1 829.8,885.8 830.6,882.5 831.4,893.2 832.1,882 832.9,881.7 833.7,886.8 834.5,867.3 835.3,898.6 836.1,883.7 836.9,888.4 837.7,886.9 838.4,887.7 839.2,874.6 840,898 840.8,889 841.6,887 842.4,908.5 843.2,875.3 844,890.5 844.7,884.2 845.5,873.7 846.3,899.6 847.1,873.4 847.9,886.2 848.7,884.5 849.5,886.6 850.3,878.2 851,895.5 851.8,887.2 852.6,875.8 853.4,876.3 854.2,885.4 855,887.5 855.8,876.7 856.6,888.7 857.4,887.9 858.1,881 858.9,870.9 859.7,875.7 860.5,888.1 861.3,881.6 862.1,899.4 862.9,882.1 863.7,888.3 864.4,890.5 865.2,886.1 866,887.8 866.8,893 867.6,884.4 868.4,888 869.2,882.7 870,900.5 870.7,886.7 871.5,891.7 872.3,863.1 873.1,881.8 873.9,877 874.7,885.7 875.5,882.1 876.3,877.6 877,883.4 877.8,891.6 878.6,893.5 879.4,881.4 880.2,893.4 881,880.8 881.8,890.1 882.6,879 883.3,893.3 884.1,902.9 884.9,883.2 885.7,894.6 886.5,874.6 887.3,880.7 888.1,905.4 888.9,884.9 889.6,889.2 890.4,873.2 891.2,885.3 892,879.6 892.8,894.5 893.6,881.4 894.4,904.6 895.2,877.2 895.9,887.9 896.7,870.4 897.5,882.4 898.3,894.6 899.1,885.4 899.9,884.6 900.7,875.7 901.5,889.1 902.3,892.6 903,888.7 903.8,892.9 904.6,874.8 905.4,899.1 906.2,890.8 907,869.6 907.8,899.5 908.6,881.9 909.3,889.3 910.1,870.6 910.9,880.7 911.7,871.7 912.5,891.7 913.3,883.7 914.1,878.5 914.9,882.6 915.6,893.9 916.4,879.6 917.2,889.7 918,876.5 918.8,872.9 919.6,881.8 920.4,883.3 921.2,886.8 921.9,892.5 922.7,882.3 923.5,882.7 924.3,891.1 925.1,888.6 925.9,885 926.7,887.2 927.5,869 928.2,881.3 929,873.4 929.8,882.8 930.6,892.2 931.4,872.8 932.2,892.3 933,881.2 933.8,883.8 934.5,881.9 935.3,890.7 936.1,880.4 936.9,869.8 937.7,887.8 938.5,884.3 939.3,890.1 940.1,889.9 940.8,876.3 941.6,886.9 942.4,886.3 943.2,884.9 944,885.4 944.8,886.1 945.6,887.7 946.4,881.1 947.2,884.1 948,892.6 948.8,877.2 949.6,884.5 950.4,877.5 951.2,877.1 952,881.9 952.8,886.3 953.6,896.3 954.4,883.4 955.2,891.8 956,888.8 956.8,885.3 957.6,861.5 958.4,885.6 959.2,885 960,876.8 960.8,885.5 961.6,895.6 962.4,875.8 963.2,880.6 964,891.2 964.8,870.8 965.6,876.5 966.4,886.5 967.2,891.4 968,893.3 968.8,889.8 969.6,901.4 970.4,887 971.2,874.3 972,882.5 972.8,888.6 973.6,886.7 974.4,869.3 975.2,886.7 976,877.8 976.8,882.2 977.6,894.6 978.4,882.4 979.2,878.6 980,882.7 980.8,878.7 981.6,898.8 982.4,889.6 983.2,890.2 984,878.2 984.8,878.5 985.6,885.2 986.4,866.9 987.2,890.9 988,873.6 988.8,883.1 989.6,883.9 990.4,885.7 991.2,877.4 991.9,886 992.7,888.6 993.5,897.7 994.3,886.4 995.1,897.2 995.9,887.1 996.7,882.2 997.4,890.2 998.2,879.9 999,885 999.8,888.6 1000.6,892.5 1001.4,886.1 1002.2,873.1 1002.9,893.8 1003.7,885.4 1004.5,882 1005.3,878.2 1006.1,888.7 1006.9,886.9 1007.6,889.6 1008.4,883.5 1009.2,896.1 1010,882.7 1010.8,887.7 1011.6,886.2 1012.4,892.7 1013.1,879.7 1013.9,882.7 1014.7,883.3 1015.5,880 1016.3,880.2 1017.1,876.1 1017.9,890.8 1018.6,896.4 1019.4,877.9 1020.2,891.1 1021,885.4" stroke="#ff8a00" stroke-width="5.5"/>
<path d="M47,1155.4 48.1,1149.6 49.3,1143.7 50.7,1144 52.1,1142 53.5,1142.9 54.9,1143.3 56.3,1141.4 57.7,1143.9 59.1,1147.6 60.5,1145.6 61.9,1148.9 63.3,1150.7 64.9,1144.5 66.4,1139.3 68,1135.5 69.4,1137.3 70.8,1140.1 72.2,1142.5 73.6,1144.7 75,1146 76.6,1143.7 78.1,1135.7 79.7,1128.5 81.2,1134.5 82.8,1146 84.3,1154.2 85.9,1151.1 87.4,1149.1 89,1149.9 90.6,1145.3 92.1,1140.4 93.7,1141.4 95.2,1140 96.6,1137.1 98,1133.8 99.5,1132.3 101,1130.9 102.4,1130 103.8,1127.4 105.3,1126.2 106.7,1127.7 108,1131.9 109.4,1129 110.8,1130.4 112.1,1132.6 113.5,1134.4 115,1139.7 116.4,1140.3 117.8,1147.2 119.3,1148.4 120.8,1146.7 122.3,1147.6 123.8,1149.6 125.3,1148.7 126.8,1149.5 128.2,1151.6 129.7,1152.5 131.2,1151.9 132.7,1151.7 134.2,1154.7 135.7,1153 137.2,1151.8 138.6,1148.8 140.1,1149.3 141.6,1144 143,1143.8 144.5,1142.7 145.9,1139.8 147.4,1137.9 148.9,1142 150.5,1148.5 152,1153 153.4,1149.3 154.8,1146.4 156.2,1143 157.6,1143.9 159,1139 160.6,1140.5 162.1,1145.5 163.7,1146.6 165.3,1147.9 166.8,1151.7 168.4,1153 169.8,1150.4 171.2,1147.2 172.6,1141.7 174,1141 175.4,1137.9 176.8,1140.6 178.3,1141.3 179.8,1143.4 181.2,1145.5 182.7,1145.1 184.1,1148.9 185.6,1144.7 187,1148.4 188.4,1147.8 189.8,1143.9 191.2,1149 192.6,1147.6 194,1147.2 195.4,1146.4 196.8,1139.6 198.2,1133.5 199.6,1135.2 201,1129.7 202.4,1128 203.8,1128.6 205.2,1130.8 206.6,1132.5 208,1132 209.6,1136.7 211.1,1143.2 212.7,1148.4 214.1,1141.7 215.5,1143.7 216.9,1137.1 218.3,1133.6 219.7,1129.7 221.1,1135.3 222.5,1139.3 223.9,1144 225.3,1146.9 226.7,1153 228.1,1150.5 229.5,1149.1 230.9,1147.7 232.3,1143.5 233.7,1141.4 235.2,1143.1 236.8,1145 238.3,1147 239.9,1147.9 241.4,1148.7 243,1150.7 244.4,1147.5 245.8,1147.8 247.2,1144.2 248.6,1141.4 250,1139 251.6,1146.1 253.1,1143.5 254.7,1145.1 256.3,1145.5 257.8,1145.2 259.4,1148.4 260.9,1146.3 262.5,1140.5 264,1136.8 265.6,1134.4 267.1,1130.5 268.7,1125 270.3,1125.8 271.8,1125.8 273.4,1126.2 274.8,1133.2 276.3,1134.4 277.8,1135.5 279.2,1142 280.6,1144.7 282.1,1148.2 283.6,1152.8 285,1155.4 286.5,1154 287.9,1155.1 289.4,1150.5 290.9,1148.8 292.3,1148.5 293.8,1144 295.2,1144.8 296.7,1141.4 298.2,1141.3 299.8,1143.3 301.4,1140 302.9,1142.1 304.4,1138.8 306,1141.4 307.4,1143.2 308.7,1146.5 310.1,1149.7 311.5,1154.6 312.8,1156.9 314.2,1156.5 315.6,1151.6 317,1149.8 318.5,1150.3 319.9,1146.3 321.3,1140.7 322.7,1140.9 324.2,1135.6 325.6,1133.4 327,1132 328.6,1129.4 330.1,1130.4 331.7,1133.8 333.3,1130.3 334.8,1128.9 336.4,1128.5 337.8,1131.4 339.1,1125.4 340.4,1124.8 341.8,1123.4 343.1,1123.3 344.5,1121.5 345.7,1125.7 346.8,1133.2 348,1135.5 349.4,1133.1 350.7,1132.5 352.1,1130.1 353.5,1126.4 354.8,1124.3 356.2,1123.9 357.6,1125.4 358.9,1123.3 360.3,1128.6 361.7,1130.2 363,1131.9 364.4,1133.2 365.8,1129.1 367.2,1125.8 368.6,1120.8 370,1118.4 371.4,1113.4 372.8,1109.4 374.2,1112.1 375.6,1107.8 377,1108.6 378.4,1106.4 379.8,1106.8 381.3,1108 382.8,1108.6 384.2,1111 385.6,1108.2 387.1,1099.4 388.6,1094.2 390,1091.2 391.5,1087.7 392.9,1084 394.4,1079.9 395.9,1076 397.5,1070.6 399,1067.2 400.6,1064.4 401.7,1057.3 402.9,1045.6 404,1038.7 405.6,1024.1 407.1,1008.7 408.7,992 410.3,978.2 411.8,962.1 413.4,950 414.6,938.3 415.7,920.7 416.9,905.7 418.5,903.3 420,899.6 421.6,897.5 423.1,897.2 424.7,899.4 426.2,901 427.4,909.9 428.5,916.8 429.7,926.7 431.3,938.6 432.8,951.9 434.4,961.7 435.8,970 437.3,976.7 438.8,986.1 440.2,992 441.4,1004.4 442.5,1015.2 443.7,1024.7 445.2,1031.6 446.6,1038.2 448.1,1050.5 449.6,1057.4 450.8,1066.8 451.9,1075.5 453.1,1085.4 454.5,1088 455.9,1088.4 457.2,1090 458.6,1095.7 460,1094.7 461.5,1093.9 462.9,1099.5 464.4,1101.6 465.9,1101.7 467.3,1109.8 468.8,1112.6 470.2,1118.3 471.7,1122.7 473.1,1122.6 474.5,1125.6 475.9,1123.6 477.3,1127.4 478.7,1129.7 480.2,1130.6 481.8,1131.5 483.4,1131.8 484.9,1135.4 486.4,1132 488,1135.5 489.4,1136.9 490.8,1137.2 492.2,1139.1 493.6,1140.3 495,1141.4 496.5,1143.5 497.9,1137.7 499.4,1140.5 500.9,1139.5 502.3,1136.1 503.8,1134.3 505.2,1132.3 506.7,1133.2 508.2,1131.6 509.8,1136.1 511.4,1129.2 512.9,1133.1 514.5,1131.1 516,1132 517.6,1136.6 519.1,1135.6 520.7,1134.6 522.3,1137.4 523.8,1140.1 525.4,1141.4 526.9,1139.9 528.3,1136.4 529.8,1135.7 531.2,1133.7 532.6,1133.4 534.1,1131.3 535.5,1129.5 537,1127.4 538.4,1127.8 539.8,1131.3 541.2,1130.5 542.5,1131.4 543.9,1133.4 545.3,1134.9 546.7,1136.7 548.1,1138.1 549.6,1137.5 551,1144.6 552.5,1145.4 553.9,1148.5 555.4,1147.6 556.8,1150.2 558.2,1148 559.5,1143.8 560.9,1140.1 562.2,1139.5 563.6,1133.3 564.9,1134.6 566.3,1138.7 567.6,1137.3 569,1143.2 570.3,1144.6 571.7,1142.4 573.2,1139.1 574.6,1137.9 576.1,1133.5 577.5,1133.3 579,1133.3 580.4,1131.1 582,1130.5 583.6,1140 585.1,1143.4 586.7,1144.2 588.3,1149 589.7,1142.2 591.1,1137.8 592.5,1133.5 593.9,1131.1 595.3,1135.8 596.7,1146.3 598.1,1146.9 599.5,1154.6 601,1153.2 602.5,1151.4 604,1145.3 605.5,1143.7 606.9,1142.6 608.4,1137.9 609.9,1138.3 611.4,1137.1 612.9,1131.1 614.4,1138.1 615.9,1144 617.4,1152.4 618.8,1150.4 620.1,1147.1 621.5,1142.4 622.8,1140.5 624.2,1137.8 625.6,1139.7 627.1,1142.1 628.5,1144.9 630,1144.1 631.4,1144.6 632.9,1145.8 634.3,1150.2 635.8,1152.8 637.3,1148.8 638.8,1148.4 640.3,1152.6 641.8,1150.1 643.2,1151.5 644.7,1147.3 646.2,1146.1 647.7,1146 649.2,1147.5 650.7,1146.7 652.2,1145.7 653.6,1149.4 655,1155.5 656.4,1157.1 657.8,1158 659.3,1151.8 660.8,1149.7 662.3,1145.5 663.8,1138.9 665.3,1139.3 666.8,1131.1 668.3,1136.5 669.8,1141.4 671.3,1142 672.8,1144.9 674.3,1151.9 675.8,1154.6 677.4,1150.9 678.9,1147 680.5,1144.4 682,1141.5 683.6,1137.8 685,1140.7 686.3,1142.9 687.7,1146.6 689,1153.2 690.4,1151.3 691.8,1148.1 693.2,1140.4 694.6,1139.4 696,1131.1 697.5,1135.6 699,1139.1 700.5,1146.8 702.1,1141.9 703.6,1138.1 705.2,1140.5 706.7,1134.2 708.3,1133.3 709.6,1133.5 711,1137.4 712.3,1140.4 713.7,1141.2 715,1145.7 716.5,1142.9 718,1142 719.5,1141.1 721,1136.7 722.5,1137.3 724,1134.5 725.4,1134.2 726.8,1133.9 728.2,1131.5 729.6,1129.8 731,1132.5 732.4,1131.1 733.8,1128.4 735.2,1128.8 736.7,1132 738.2,1138.9 739.7,1142.3 741.2,1139.6 742.7,1130.9 744.2,1124.4 745.8,1126.4 747.4,1120.8 748.9,1118.9 750.5,1117.1 752.1,1114.3 753.2,1107 754.3,1093.9 755.4,1087.3 756.5,1070.7 757.7,1053.7 759.2,1050.7 760.6,1043.6 761.9,1048.2 763.1,1058.2 764.4,1064.9 765.9,1076.6 767.4,1088.6 768.9,1096.3 770.3,1102.2 771.7,1103 773.1,1109.7 774.5,1109.8 776,1114.7 777.5,1121 779,1130 780.6,1131.2 782.2,1129.3 783.7,1125.5 785.3,1128.1 786.9,1125.5 788.2,1126 789.6,1124.9 790.9,1122.1 792.3,1119.8 793.6,1121 795.1,1120.1 796.6,1124.4 798.1,1126.3 799.6,1127.6 801.1,1129.4 802.6,1132.2 803.9,1132.6 805.3,1128.1 806.6,1127.6 808,1130.9 809.3,1126.6 810.6,1126.7 812,1127.8 813.3,1131.7 814.7,1128.2 816,1132.2 817.5,1131.8 819,1124.1 820.5,1123.2 822,1125.4 823.5,1128.3 825,1132.4 826.5,1136.3 828,1142.5 829.5,1144.6 830.9,1142.1 832.3,1142 833.7,1138.7 835.1,1133 836.5,1132.7 837.9,1129.3 839.3,1127.2 840.7,1125.5 842.2,1129.4 843.7,1133.6 845.2,1136.7 846.5,1134.2 847.9,1127 849.2,1127 850.6,1123.4 851.9,1121 853.3,1126.2 854.6,1125.1 856,1127.7 857.3,1130 858.7,1132.2 860.3,1135.5 861.8,1134.4 863.4,1138 864.9,1140.1 866.5,1142.3 867.9,1137.8 869.3,1132.9 870.7,1128 872.1,1124.4 873.7,1128.6 875.3,1130.3 876.8,1139.1 878.4,1140.5 880,1144.6 881.4,1138.3 882.8,1137.4 884.2,1136 885.6,1131.1 887.1,1131.7 888.6,1132.7 890.1,1130.2 891.6,1137.1 893.1,1135.8 894.6,1136.7 896.2,1135.9 897.8,1140.8 899.4,1146.2 901,1146.9 902.6,1146.3 904.2,1150.2 905.8,1153.5 907.1,1151.4 908.5,1151.9 909.8,1146.5 911.2,1144.8 912.5,1141.2 914,1141.4 915.5,1142.8 917,1141.8 918.5,1142.1 920,1142.7 921.5,1145.7 922.8,1147.9 924.2,1154 925.5,1155 926.9,1160.2 928.2,1161.4 929.7,1159.8 931.2,1156 932.7,1152.2 934.2,1153.7 935.7,1149.2 937.2,1144.6 938.6,1144.6 939.9,1144.6 941.3,1141 942.6,1136.9 944,1134.5 945.4,1134.7 946.8,1134.5 948.2,1136.8 949.6,1131.2 951,1129.4 952.4,1131.2 953.8,1131.5 955.2,1131.1 956.8,1131.1 958.4,1134.5 960,1134.9 961.6,1134.9 963.2,1136 964.8,1139.9 966.4,1137.8 968,1143.3 969.5,1145.1 971.1,1143.9 972.6,1148.7 974.2,1149 975.6,1144.6 977,1141 978.5,1144.2 979.9,1138.9 981.2,1142.8 982.6,1145 983.9,1148.6 985.3,1151.5 986.6,1151.3 988.1,1150.8 989.6,1149.9 991.1,1149.5 992.6,1148.9 994.1,1146.9 995.6,1145.7 996.9,1141.5 998.3,1145.7 999.6,1138.4 1001,1136.7 1002.3,1135.6 1003.8,1139 1005.3,1140.4 1006.8,1143.8 1008.3,1149.2 1009.8,1150.1 1011.3,1150.2 1012.8,1148.9 1014.3,1149.6 1015.8,1148.4 1017.3,1150 1018.8,1145.9 1020.3,1146.8" stroke="#ff0000" stroke-width="5.8"/>
<path d="M1212.1,349.1 1214.1,348 1216,348 1218,349.6 1220,347 1222,348.9 1223.9,347 1225.9,350 1227.9,349.1 1229.8,350.2 1231.8,348.5 1233.8,349.3 1235.8,348.6 1237.7,348.2 1239.7,349 1241.7,347.7 1243.7,348.5 1245.6,349.4 1247.6,348.8 1249.6,348.4 1251.5,350.7 1253.5,348.8 1255.5,348.2 1257.5,348.8 1259.4,348.2 1261.4,348.3 1263.4,348.3 1265.3,350.4 1267.3,348.6 1269.3,348.7 1271.3,349.1 1273.2,350.3 1275.2,348.3 1277.2,347.9 1279.2,350.7 1281.1,347.1 1283.1,348.1 1285.1,349 1287,350.4 1289,347.5 1291,346.2 1293,348.9 1294.9,347.8 1296.9,348.3 1298.9,348 1300.8,348.8 1302.8,348.6 1304.7,348.8 1306.7,348.2 1308.7,349.8 1310.6,350 1312.6,348.7 1314.5,348.3 1316.5,349.4 1318.5,349.3 1320.4,347.9 1322.4,348.5 1324.3,349.9 1326.3,348.9 1328.3,348.8 1330.2,349.3 1332.2,349.1 1334.2,349.2 1336.1,347.5 1338.1,350.9 1340,349.5 1342,348.6 1344,350.3 1345.9,349.8 1347.9,349.6 1349.8,350.6 1351.8,351.7 1353.8,350.2 1355.7,351.2 1357.7,351.7 1359.6,348.9 1361.6,349.9 1363.6,349.5 1365.5,350.7 1367.5,348.5 1369.4,349.9 1371.4,351.3 1373.3,351.1 1375.3,350.8 1377.3,348.6 1379.2,352.5 1381.2,350.9 1383.1,351.1 1385.1,350.9 1387,349 1389,349.3 1391,349.5 1392.9,352.4 1394.9,350 1396.8,350.6 1398.8,350.6 1400.8,351.4 1402.7,351.4 1404.7,351.2 1406.6,349.9 1408.6,348.2 1410.5,351.3 1412.5,351.4 1414.5,352.3 1416.4,351.2 1418.4,350.8 1420.3,351.7 1422.3,350 1424.2,350.5 1426.2,351.5 1428.2,350.6 1430.1,351.7 1432.1,353.3 1434,352.1 1436,352.4 1437.9,351.6 1439.9,351.6 1441.9,350.9 1443.8,351 1445.8,349.1 1447.7,350.2 1449.7,350.1 1451.6,351.9 1453.6,351.8 1455.6,352.2 1457.5,352.5 1459.5,350.8 1461.4,352 1463.4,352.8 1465.4,351 1467.3,352 1469.3,350.8 1471.2,349.5 1473.2,351 1475.1,350.2 1477.1,351 1479.1,350.4 1481,351.1 1483,348.9 1484.9,352.6 1486.9,352 1488.8,350.4 1490.8,350.7 1492.7,349.2 1494.6,349.4 1496.4,349.3 1498.3,348.4 1500.2,347.7 1502.1,346.7 1503.9,345.4 1505.8,346.7 1507.6,349.4 1509.4,348.9 1511.2,347.8 1513,348.9 1514.9,348.9 1516.7,350.7 1518.6,349.5 1520.5,351.1 1522.4,349.6 1524.4,350.5 1526.3,349.3 1528.2,347.4 1530.1,348.5 1532,347 1534,348.7 1535.9,345 1537.8,343.7 1539.8,344.9 1541.7,342.8 1543.5,342.7 1545.3,342.5 1547.1,343.7 1548.9,340.7 1550.8,342.5 1552.6,341 1554.4,340.6 1556.2,341 1558,341.6 1559.8,340.3 1561.7,336.8 1563.5,333 1565.4,331.3 1567.2,330 1569.1,328.6 1570.9,325.4 1572.8,320.7 1574.6,321.1 1576.5,316.1 1578.4,311.1 1580.2,305.7 1582.1,302.1 1583.9,298.4 1585.8,292.9 1587.7,285.1 1589.7,275.3 1591.6,265.1 1593.1,253.1 1594.7,241.4 1596.2,230.3 1598,211.6 1599.7,195.5 1600.8,178 1602,160.7 1603.8,142.8 1605.5,125.9 1606.7,108.8 1607.8,91.2 1609.5,72.6 1611.3,56.4 1613,46.6 1614.8,37.8 1616.3,35.2 1617.8,34.3 1619.2,36.1 1620.6,40.1 1621.8,50.6 1622.9,63.3 1624.1,76.3 1625.2,91.2 1627,107.5 1628.7,125.9 1629.8,143.8 1631,160.7 1632.2,178.2 1633.3,195.5 1635,211.7 1636.8,230.3 1638.3,242.4 1639.9,253.8 1641.4,265.1 1643.2,273.4 1644.9,278.8 1646.7,285.8 1648.4,292.9 1650.3,296.4 1652.1,301.4 1654,305.9 1655.8,309.8 1657.7,313.8 1659.6,316.1 1661.6,319.3 1663.5,321.4 1665.4,324 1667.4,325.4 1669.3,328.8 1671.2,329.9 1673,329.8 1674.9,330.8 1676.7,332.7 1678.6,333.5 1680.3,336.9 1682,337.3 1683.8,337.9 1685.5,339.3 1687.4,338.9 1689.4,339.8 1691.3,340 1693.2,339.6 1695.2,338.1 1697.1,338.1 1699,338.9 1701,339 1702.9,339.6 1704.8,339.6 1706.8,340.8 1708.7,341.6 1710.6,340.6 1712.5,342.5 1714.5,344.9 1716.4,344.7 1718.3,347 1720.2,347.5 1722,346.2 1723.9,346.9 1725.7,347.5 1727.5,346 1729.4,346.2 1731.2,349 1733.1,345.9 1734.9,345.8 1736.7,345.7 1738.6,346.2 1740.4,346 1742.3,346.2 1744.2,347.3 1746.1,347.3 1748,346.4 1749.9,346.7 1751.8,345.9 1753.7,346 1755.6,346.9 1757.5,348.5 1759.5,348.1 1761.4,348.9 1763.3,349.3 1765.2,348.4 1767.1,350.7 1769,348.5 1770.9,348.6 1772.8,349 1774.7,350.6 1776.6,349.7 1778.5,350 1780.4,349.4 1782.4,350.5 1784.3,351.2 1786.3,350.1 1788.2,350 1790.1,351.3 1792.1,351.2 1794,351.2 1796,349.7 1797.9,350.7 1799.8,350.8 1801.8,348.9 1803.7,351.7 1805.7,350.7 1807.6,350.4 1809.6,352.8 1811.5,350.9 1813.4,350.2 1815.4,350.8 1817.3,351.4 1819.3,351.7 1821.2,351 1823.1,350.7 1824.9,349.8 1826.8,349.7 1828.7,349.4 1830.5,349 1832.4,349.7 1834.3,349.1 1836.1,349.4 1838,348.4 1839.9,348.1 1841.7,348.5 1843.6,348.5 1845.5,348.4 1847.5,350.1 1849.4,348.4 1851.3,349.7 1853.2,349.7 1855.2,348.8 1857.1,350.3 1859.1,351 1861.1,350.6 1863,348.5 1865,351.1 1867,351.4 1869,349.9 1870.9,352.2 1872.9,350.9 1874.9,349.7 1876.9,351.3 1878.8,350.5 1880.8,349.7 1882.8,349 1884.8,351.3 1886.7,350.4 1888.7,351.7 1890.7,351.5 1892.7,350.8 1894.6,350.8 1896.6,353 1898.6,353 1900.6,352.1 1902.6,351.2 1904.5,350.7 1906.5,351.3 1908.5,353.2 1910.5,352.1 1912.4,351.5 1914.4,350.7 1916.4,352 1918.4,351.1 1920.3,352 1922.3,352.7 1924.3,353.1 1926.3,352.3 1928.2,351.9 1930.2,352.4 1932.2,353.9 1934.2,352.7 1936.1,351.1 1938.1,353.9 1940.1,352.5 1942,352.2 1943.8,354.7 1945.7,350.6 1947.6,350.4 1949.4,349.7 1951.3,349.5 1953.3,349.9 1955.2,349 1957.2,348.2 1959.2,347.8 1961.1,349.5 1963.1,349.2 1965.1,349.1 1967,351.6 1969,350.5 1971,350.7 1972.9,349.3 1974.9,350.1 1976.9,349.6 1978.8,349.7 1980.8,350.6 1982.8,350.5 1984.7,350.2 1986.7,350.1 1988.6,348.7 1990.6,349.3 1992.6,350.4 1994.5,349.7 1996.5,349.4 1998.5,350.4 2000.4,349.3 2002.4,349.5 2004.4,351 2006.3,349.9 2008.3,351.5 2010.3,350.7 2012.2,351 2014.2,350.3 2016.2,351.4 2018.1,348.5 2020.1,350.4 2022,349.4 2024,350.2 2025.9,350.6 2027.9,351.9 2029.9,350.8 2031.8,352.4 2033.8,350.5 2035.7,351 2037.7,351.2 2039.6,352.1 2041.6,351.2 2043.5,350.8 2045.5,351.1 2047.5,350.2 2049.4,352.7 2051.4,352.3 2053.3,352.1 2055.3,352 2057.2,351.3 2059.2,351.5 2061.2,352.7 2063.1,351.3 2065.1,351.4 2067,353.6 2069,353.7 2070.9,352.6 2072.9,352.9 2074.8,352.6 2076.8,353.8 2078.8,352.2 2080.7,352.7 2082.7,353.2 2084.6,354.1 2086.6,352.6 2088.5,353.1 2090.5,353 2092.4,352.1 2094.4,351.5 2096.3,351.1 2098.3,351.3 2100.2,351.6 2102.2,349.8 2104.1,349.4 2106.1,349.2 2108,349.4 2110,349.3 2111.9,347.1 2113.9,348.1 2115.8,346.5 2117.8,347.6 2119.7,346.5 2121.7,346 2123.7,346.4 2125.7,347.1 2127.7,348.1 2129.6,347.7 2131.6,349.2 2133.6,349.6 2135.6,350 2137.6,350.3 2139.5,350.5 2141.5,351.1 2143.4,349.6 2145.4,350.3 2147.3,350.3 2149.3,348.4 2151.2,350.7 2153.1,349.6 2155.1,349.7 2157,349.9 2159,350.4 2160.9,350.6 2162.8,350.7 2164.8,349.7 2166.7,350.9 2168.7,350.7 2170.6,349.9 2172.6,350.3 2174.5,351 2176.4,350.7 2178.4,350.9 2180.3,350.4 2182.3,351.3 2184.2,352.3 2186.2,350.7 2188.1,350.3" stroke="#0000ff" stroke-width="6.2"/>
<path d="M1212.8,630.7 1214,622.6 1215.2,613.2 1216.5,612.8 1217.9,616.4 1219.2,619.7 1220.6,623.8 1222,623.9 1223.3,626 1224.9,621.9 1226.4,622.8 1228,618.9 1229.5,620.5 1231.1,616.6 1232.6,617.6 1234.2,613.1 1235.7,610.1 1237.3,609.7 1238.9,608.8 1240.4,611.5 1242,613.8 1243.6,616 1245.1,615.9 1246.7,616.7 1247.9,612.6 1249,611.2 1250.2,607.4 1251.7,610 1253.1,617.4 1254.5,620.3 1256,626 1257.6,627.3 1259.1,625.8 1260.7,624.2 1262.2,621.5 1263.8,622.9 1265.3,621.8 1266.9,619.8 1268.4,618.9 1270,619 1271.6,624.7 1273.1,626.2 1274.7,630.7 1276.1,627.1 1277.5,624.2 1278.9,616 1280.3,616.4 1281.7,609.7 1283.3,610.6 1284.8,607.7 1286.4,606.8 1287.9,605.9 1289.5,608.4 1291,603 1292.6,607.3 1294.1,605.8 1295.7,605 1297.2,607 1298.8,610.1 1300.3,613.2 1301.9,616.3 1303.5,620.8 1305,622.5 1306.6,617.4 1308.1,616.3 1309.7,612.2 1311.3,606.6 1312.8,603.9 1314.4,599.2 1315.9,600.6 1317.3,603.7 1318.8,606.5 1320.2,610.7 1321.7,610.1 1323.1,612.1 1324.5,614.6 1326,616.7 1327.4,615.5 1328.8,613.3 1330.2,616.5 1331.6,612.1 1333,612 1334.4,612.6 1335.8,613.8 1337.2,617.2 1338.6,621.8 1340,619 1341.4,620.7 1342.8,615.3 1344.2,611.8 1345.6,608.7 1347,606.2 1348.6,613 1350.1,623.6 1351.7,630.7 1353.1,625.4 1354.5,623.4 1355.9,614.9 1357.3,608.7 1358.7,605 1360.3,613.3 1361.8,624.3 1363.4,637.7 1364.8,634.8 1366.2,630.7 1367.6,624.9 1369,620.6 1370.4,619 1371.8,621.5 1373.2,622.7 1374.6,625.6 1376,627.4 1377.4,629.5 1379,627 1380.5,624.4 1382.1,625.6 1383.6,624.2 1385.2,623 1386.7,621.4 1388.2,620.1 1389.7,617.4 1391.2,612.7 1392.7,611.5 1394.2,605 1395.7,606.3 1397.2,602.7 1398.6,607.8 1400,614.4 1401.4,619.5 1402.8,621.9 1404.2,628.4 1405.7,622.4 1407.1,618.3 1408.5,610.1 1410,605 1411.6,607.1 1413.1,608 1414.7,611.7 1416.3,613.2 1417.8,613.6 1419.4,616.7 1420.9,613.8 1422.3,611.8 1423.8,615.3 1425.2,612.6 1426.7,611.3 1428.1,610.7 1429.5,609.3 1431,609.7 1432.4,612.4 1433.9,614 1435.3,611.6 1436.7,616.4 1438.2,618.3 1439.6,619.4 1441,621.7 1442.5,625.6 1443.9,624.9 1445.3,620.9 1446.7,617.7 1448.1,613 1449.5,605 1450.9,602.7 1452.4,609.3 1453.8,611.2 1455.2,614.5 1456.7,619 1458.2,619.5 1459.6,620.7 1461.1,615.7 1462.6,615.1 1464,615.9 1465.5,612.1 1466.9,612.4 1468.4,613.2 1470,611.9 1471.5,611.5 1473.1,609.9 1474.6,608.9 1476.2,607.9 1477.7,605 1479.3,609.1 1480.8,613.8 1482.4,619 1483.8,615.1 1485.2,611.5 1486.6,610.1 1488,606.2 1489.4,601.5 1490.8,599.3 1492.2,603.6 1493.6,602.1 1495,602.7 1496.4,605 1497.8,608.2 1499.2,609.7 1500.6,610.9 1502,611.6 1503.4,612 1504.8,611.3 1506.2,603.9 1507.6,603.4 1509,598 1510.4,595.7 1512,593.5 1513.6,590.7 1515.2,593.9 1516.8,593 1518.4,590.4 1520,587 1521.6,586.8 1523.2,585.2 1524.7,588.1 1526.1,593.6 1527.5,600.5 1529,602.7 1530.5,606.2 1532,606 1533.4,607.4 1534.9,607.4 1536.4,601.1 1537.8,595.7 1539.2,588.8 1540.7,582.9 1542.1,590.6 1543.5,596 1544.9,605.4 1546.3,610.6 1547.7,617.9 1549.3,609.2 1550.8,599.8 1552.4,591 1553.8,595.6 1555.2,597 1556.6,596.9 1558,599 1559.4,602.7 1560.9,598.5 1562.5,592.7 1564,587.5 1565.4,587.7 1566.8,588.8 1568.2,591.3 1569.6,589.3 1571,589.9 1572.6,583 1574.1,571.3 1575.7,563 1577.2,552.8 1578.7,543.7 1580.1,533.2 1581.6,523.4 1583,514.8 1584.4,506 1585.8,499.1 1587.2,491.1 1588.6,483.7 1590,475.3 1591.4,468.4 1592.8,459.3 1594.2,451.8 1595.6,441.7 1597,430.9 1598.5,420.2 1600,409.3 1601.4,397.3 1603,391.4 1604.5,384.8 1606.1,376.3 1607.6,384.1 1609.2,394.1 1610.7,402 1612.1,411.7 1613.5,422.5 1614.9,431.3 1616.3,438.6 1617.7,448.7 1619.3,463.3 1620.8,477.7 1622.4,490.7 1624,507.9 1625.5,526.7 1627.1,542 1628.5,546.5 1630,548.4 1631.5,554.8 1632.9,558.4 1634.1,569.6 1635.2,577.5 1636.4,588.7 1638,592.1 1639.5,589.5 1641.1,595.7 1642.6,597 1644.2,590.6 1645.7,591 1647.2,594.4 1648.7,598.8 1650.1,601.3 1651.6,607.4 1653,609.7 1654.4,609.8 1655.8,611.1 1657.2,611.6 1658.6,616.7 1659.9,616.9 1661.3,616.8 1662.7,614 1664,613.9 1665.3,615.1 1666.7,612 1668.3,611.8 1669.8,612.1 1671.4,611.2 1673,610 1674.5,609 1676.1,607.4 1677.5,611.8 1678.9,613.2 1680.4,615.8 1681.8,617.3 1683.2,618.1 1684.6,622.5 1686.1,626 1687.5,630.7 1688.9,631.9 1690.4,627.9 1691.9,622.1 1693.4,622.4 1694.9,619.7 1696.4,614.9 1697.9,611.4 1699.4,607.4 1701,607.6 1702.6,606.9 1704.2,608.7 1705.8,605.3 1707.4,605.1 1709,605.9 1710.6,608.4 1712.1,614.2 1713.7,618.4 1715.2,622.9 1716.8,628.3 1718.4,625 1720,622.7 1721.5,615.7 1723.1,614.2 1724.7,610.4 1726.3,614.2 1727.8,618.9 1729.4,624 1730.9,629.9 1732.5,634 1734.1,627 1735.7,626.8 1737.2,619.8 1738.8,614.1 1740.4,610.4 1741.9,607.4 1743.4,610.5 1744.9,609.2 1746.4,608.7 1747.9,606.9 1749.4,605.9 1751,610.7 1752.5,612.7 1754.1,615.7 1755.6,615.4 1757.2,617.1 1758.6,616.3 1759.9,612.1 1761.3,610.6 1762.6,607.7 1764,605.9 1765.6,610.1 1767.1,614.1 1768.7,618.1 1770.2,622.1 1771.8,626.1 1773.2,624.6 1774.6,621.9 1776,619.7 1777.4,618.2 1778.8,618 1780.2,616.2 1781.6,614.9 1783,611.5 1784.5,613 1786,606 1787.5,606.6 1789,601.5 1790.5,600.5 1792,599.2 1793.3,600.3 1794.7,603.8 1796,607.8 1797.4,610.4 1798.7,610.4 1800.1,609.4 1801.5,608.8 1802.9,606.4 1804.3,602.5 1805.8,605.1 1807.2,600.4 1808.6,598.9 1810,598.1 1811.6,602.1 1813.1,604.9 1814.7,609.3 1816.2,615.4 1817.8,618.3 1819.2,615.4 1820.6,614.3 1822,611.2 1823.4,609.5 1824.8,611 1826.2,609.7 1827.6,607 1829,605.9 1830.5,610.6 1832.1,609 1833.7,613.4 1835.2,613.9 1836.8,617.1 1838.3,620.1 1839.9,619.8 1841.4,623.9 1842.7,622.5 1844.1,617 1845.4,613.9 1846.8,610.2 1848.1,607 1849.6,610.4 1851.2,610.9 1852.8,613.8 1854.3,618.8 1855.8,620.8 1857.4,623.3 1859,627.2 1860.5,629.5 1861.8,626.1 1863.2,616.8 1864.5,609.2 1865.9,606.6 1867.2,601.4 1868.6,602.4 1870,607.8 1871.4,610.2 1872.8,614.9 1874.2,613.3 1875.6,614.2 1877,609.7 1878.4,605.8 1879.8,604.9 1881.2,603.3 1882.6,601.1 1884,601.4 1885.4,606.3 1886.8,610.2 1888.2,615.5 1889.6,618.3 1891,613.3 1892.4,605.8 1893.8,599 1895.2,593.6 1896.7,593.8 1898.2,595.4 1899.7,595.5 1901.2,595.1 1902.7,601.6 1904.2,599.2 1905.6,606.6 1906.9,609.6 1908.3,614.7 1909.6,620.2 1911,626.1 1912.3,623.8 1913.7,619.8 1915,614.2 1916.4,614.8 1917.7,611.5 1919.1,611.6 1920.5,608.2 1921.9,607.4 1923.3,608.6 1924.7,606.5 1926.1,608.8 1927.5,607.8 1928.9,605.9 1930.4,604.7 1931.9,609.1 1933.4,607.6 1934.9,609.9 1936.4,614.1 1937.9,613 1939.4,615.6 1940.9,615.3 1942.4,617.1 1943.7,618.9 1945.1,614.9 1946.4,618.1 1947.8,613.5 1949.1,611.5 1950.5,614.1 1951.9,617.8 1953.3,620.4 1954.7,626.1 1956.1,625.5 1957.5,631.3 1958.9,635.2 1960.3,636.2 1961.7,634.6 1963.1,627.9 1964.5,628.4 1965.9,624.5 1967.3,621.7 1968.7,615.5 1970.1,613.9 1971.5,610.4 1972.9,614.8 1974.2,616 1975.6,618.8 1976.9,620.6 1978.3,623.9 1979.8,622.6 1981.3,621.7 1982.8,624.2 1984.3,619.2 1985.8,617.5 1987.3,617.1 1988.6,612.1 1990,610.6 1991.3,606.7 1992.7,602.1 1994,599.2 1995.5,599.4 1997,607.2 1998.5,606.8 2000,608.7 2001.5,612.7 2003,613.6 2004.5,617.1 2006,617.3 2007.5,622.7 2009.1,617.6 2010.6,610.4 2012.2,611.1 2013.7,605.6 2015.3,601.4 2016.9,604.4 2018.5,608.1 2020,609.5 2021.6,614.8 2023.2,618.3 2024.5,619.8 2025.9,622.6 2027.2,621.9 2028.6,623.7 2029.9,626.1 2031.2,623.2 2032.6,620.9 2033.9,618.1 2035.3,615.6 2036.6,612.6 2038,609.5 2039.3,604.4 2040.7,600.2 2042,595.3 2043.4,591.3 2045,590.3 2046.6,594.3 2048.2,594 2049.8,595.6 2051.4,595.1 2053,600.5 2054.6,599.2 2055.7,609.7 2056.8,617.1 2058.3,613.8 2059.8,612.3 2061.3,610.2 2062.8,609 2064.3,603.6 2065.8,602 2067.3,596.6 2068.8,594.8 2070.3,592.4 2071.9,598.1 2073.4,604 2075,608.9 2076.5,617.4 2078.1,622.7 2079.7,617.5 2081.3,613.8 2082.8,611.1 2084.4,609.5 2086,603.7 2087.3,607.3 2088.7,607.5 2090,608.1 2091.4,609.7 2092.7,613.8 2094.1,610.9 2095.4,609.1 2096.8,606.2 2098.1,601.9 2099.5,599.2 2101.1,600.1 2102.7,604 2104.3,607.2 2105.9,607.5 2107.5,610.3 2109.1,611.2 2110.7,613.8 2112.2,611.8 2113.7,612.4 2115.2,607.9 2116.7,608.9 2118.2,604.8 2119.7,603.7 2121.2,607 2122.7,611.6 2124.1,614.8 2125.6,616.3 2127.1,620.4 2128.6,623.9 2130,625.2 2131.4,626.5 2132.8,627.6 2134.2,630.1 2135.7,628.8 2137.1,632.7 2138.5,634.1 2139.9,634 2141.4,628.1 2142.9,625.7 2144.4,620.5 2145.8,615.3 2147.3,613.5 2148.8,609.3 2150.2,613.9 2151.5,616.3 2152.9,621.2 2154.2,624.5 2155.6,628.3 2157.2,621.9 2158.7,620.9 2160.3,619 2161.8,616 2163.4,610.4 2164.8,612.8 2166.2,616.6 2167.6,623.5 2169,627.2 2170.5,624 2172,621.8 2173.5,618.1 2175,617 2176.5,614.2 2178,610.4 2179.5,610.1 2181,610.8 2182.5,610.8 2184,612 2185.5,611.7 2187,611.5" stroke="#008000" stroke-width="5.8"/>
<path d="M1212.8,866.5 1213.6,863.7 1214.4,872.2 1215.2,864.2 1216,863.2 1216.7,856.5 1217.5,864.4 1218.3,879.1 1219.1,871.5 1219.9,878.3 1220.7,869.7 1221.5,871.4 1222.3,869.1 1223,848.8 1223.8,876.6 1224.6,872.8 1225.4,872.7 1226.2,848.7 1227,848.2 1227.8,857.6 1228.6,862.3 1229.4,870.8 1230.1,867 1230.9,873.3 1231.7,860.6 1232.5,871.1 1233.3,872 1234.1,860.5 1234.9,886.7 1235.7,874 1236.5,881.1 1237.2,861.1 1238,859.9 1238.8,864.3 1239.6,866.9 1240.4,875.1 1241.2,870.9 1242,863.3 1242.8,857.7 1243.5,862.6 1244.3,881.8 1245.1,859.5 1245.9,871.1 1246.7,868.5 1247.5,873.2 1248.3,852.1 1249.1,869 1249.9,882.9 1250.6,846.3 1251.4,865 1252.2,867.3 1253,859.5 1253.8,874 1254.6,867.8 1255.4,852.4 1256.2,877.6 1257,875.9 1257.8,878.9 1258.5,884.3 1259.3,872.5 1260.1,869.8 1260.9,854.2 1261.7,875.3 1262.5,861.8 1263.3,863.5 1264.1,854.6 1264.9,857.9 1265.7,862.7 1266.4,882.7 1267.2,846.2 1268,852.5 1268.8,871.1 1269.6,884.4 1270.4,874.9 1271.2,847.6 1272,840.8 1272.8,872.4 1273.6,860.4 1274.3,856.2 1275.1,879.3 1275.9,880.6 1276.7,870.2 1277.5,871.2 1278.3,873.3 1279.1,886 1279.9,875.3 1280.7,874.2 1281.5,874.5 1282.2,851.2 1283,882.6 1283.8,879 1284.6,874.3 1285.4,846.8 1286.2,861.5 1287,877.8 1287.8,848.6 1288.6,866.5 1289.4,879.7 1290.1,854.1 1290.9,886.2 1291.7,874.6 1292.5,866.8 1293.3,868.5 1294.1,871.9 1294.9,875.2 1295.7,869.2 1296.5,880.3 1297.3,860.2 1298.1,862.7 1298.9,878.5 1299.7,867.2 1300.5,857 1301.3,876.9 1302.1,882.4 1302.8,861.2 1303.6,850.7 1304.4,864.2 1305.2,863.8 1306,862 1306.8,880.5 1307.6,853.6 1308.4,878.5 1309.2,850.5 1310,855.6 1310.8,871 1311.6,876.3 1312.4,873.1 1313.2,867.2 1314,864.8 1314.8,864.7 1315.6,869.2 1316.4,860.7 1317.2,865.5 1318,868.5 1318.8,862 1319.6,870.2 1320.4,867.9 1321.2,883.5 1321.9,864.8 1322.7,856.3 1323.5,856.7 1324.3,860.5 1325.1,870.6 1325.9,856.5 1326.7,864.3 1327.5,880 1328.3,831.4 1329.1,847 1329.9,861.9 1330.7,859 1331.5,863.7 1332.3,862.2 1333.1,855.1 1333.9,867.3 1334.7,863.5 1335.5,854.9 1336.3,887.7 1337.1,865.2 1337.9,855.4 1338.7,860.7 1339.5,859.6 1340.3,861.7 1341.1,832.6 1341.9,857.6 1342.7,874.3 1343.5,850.6 1344.3,863 1345.1,874.5 1345.9,873.7 1346.7,881 1347.4,846.2 1348.2,861.3 1349,861.7 1349.8,872.6 1350.6,878 1351.4,836.8 1352.2,878.5 1353,850.9 1353.8,874.6 1354.6,851 1355.4,869.6 1356.2,881.1 1357,866.6 1357.8,870.6 1358.6,877.6 1359.4,870.7 1360.2,868.4 1361,886.5 1361.8,881.5 1362.6,867 1363.4,870.5 1364.2,900.6 1365,857.7 1365.8,880.4 1366.6,867.3 1367.3,871.6 1368.1,877.8 1368.9,872.5 1369.7,877 1370.5,853.1 1371.3,853.2 1372.1,876.5 1372.9,859.1 1373.7,858.3 1374.5,853.4 1375.2,883.4 1376,877.6 1376.8,885.6 1377.6,859 1378.4,869.2 1379.2,856.6 1380,877.5 1380.8,886.5 1381.6,859.1 1382.4,886 1383.1,879.7 1383.9,866.8 1384.7,847 1385.5,884.1 1386.3,867.5 1387.1,861.8 1387.9,872.8 1388.7,872.8 1389.5,884.7 1390.3,857 1391,880.6 1391.8,884.4 1392.6,884 1393.4,865.9 1394.2,859.7 1395,879 1395.8,869 1396.6,869 1397.4,883.3 1398.2,864.6 1398.9,842.2 1399.7,863.1 1400.5,846.9 1401.3,876.3 1402.1,870.7 1402.9,860.4 1403.7,866.9 1404.5,876.1 1405.3,867.8 1406.1,881.4 1406.8,866.1 1407.6,878.1 1408.4,883 1409.2,884.3 1410,866.5 1410.8,859.1 1411.6,876.1 1412.4,845.7 1413.2,854.4 1414,844.7 1414.7,878 1415.5,852.7 1416.3,866 1417.1,864 1417.9,865.8 1418.7,859.5 1419.5,868.6 1420.3,885.7 1421.1,866.4 1421.9,871.7 1422.7,876.8 1423.5,863.6 1424.2,851.9 1425,859.6 1425.8,877.5 1426.6,847.5 1427.4,859 1428.2,876.6 1429,874.2 1429.8,865.5 1430.6,874.3 1431.4,867.2 1432.2,852.3 1433,848.1 1433.7,858.2 1434.5,875.3 1435.3,858.9 1436.1,855.2 1436.9,856.6 1437.7,848.2 1438.5,863.7 1439.3,852 1440.1,868.9 1440.9,838.9 1441.7,868.4 1442.5,857.7 1443.2,843.4 1444,872.6 1444.8,861.6 1445.6,840.1 1446.4,854.9 1447.2,867.7 1448,859.4 1448.8,873 1449.6,872.6 1450.4,871.7 1451.2,867.9 1452,878.9 1452.7,871.5 1453.5,869.1 1454.3,841.2 1455.1,873.9 1455.9,878.4 1456.7,864 1457.5,860.7 1458.3,858.8 1459.1,885.3 1459.9,844.7 1460.7,869.2 1461.4,890.7 1462.2,853.8 1463,871.6 1463.8,884.8 1464.6,862.7 1465.4,870.2 1466.2,873.9 1467,854 1467.8,863 1468.6,867.2 1469.4,873.1 1470.2,863.6 1470.9,861.9 1471.7,852.8 1472.5,860.1 1473.3,873.8 1474.1,865.1 1474.9,854.6 1475.7,854.7 1476.5,893.3 1477.3,876.5 1478.1,871 1478.9,835.5 1479.7,870.8 1480.4,869.3 1481.2,882.5 1482,868.7 1482.8,863.3 1483.6,869.7 1484.4,842.6 1485.2,875.4 1486,867.6 1486.8,856.3 1487.6,878.6 1488.4,883.9 1489.2,848.6 1489.9,856.7 1490.7,867.2 1491.5,866 1492.3,859.6 1493.1,853.3 1493.9,887.3 1494.7,875.4 1495.5,850.9 1496.3,849.2 1497.1,882.7 1497.9,874.9 1498.7,884 1499.4,872.9 1500.2,854.4 1501,866.9 1501.8,840.2 1502.6,855.8 1503.4,864 1504.2,863.2 1505,869.5 1505.8,855.7 1506.6,862.2 1507.4,868.5 1508.2,867.5 1509,870.2 1509.8,865.4 1510.6,859.4 1511.4,871.5 1512.2,863.3 1512.9,853.5 1513.7,855.6 1514.5,862.4 1515.3,861.1 1516.1,863.9 1516.9,862.1 1517.7,863.9 1518.5,860.4 1519.3,847.9 1520.1,866.2 1520.9,873.1 1521.7,866.2 1522.5,859.2 1523.3,866.1 1524.1,850.4 1524.9,840.1 1525.7,861.5 1526.5,850.5 1527.3,868.7 1528.1,848.6 1528.9,831.5 1529.7,848.8 1530.4,877.5 1531.2,855.8 1532,844.8 1532.8,851.4 1533.6,865.4 1534.4,865 1535.2,861.4 1536,875.7 1536.8,867 1537.6,858.9 1538.4,859 1539.2,865.1 1540,876.4 1540.7,868.4 1541.5,868.6 1542.3,845 1543.1,854.9 1543.8,864.1 1544.6,852.4 1545.4,867 1546.2,861.4 1546.9,864.4 1547.7,851.7 1548.5,881.6 1549.2,866.8 1550,850.4 1550.8,853.3 1551.6,880.5 1552.3,847.7 1553.1,860.7 1553.9,861.5 1554.7,850.3 1555.5,837 1556.2,851.5 1557,849 1557.8,851.7 1558.6,858.9 1559.3,853.8 1560.1,844.1 1560.9,852 1561.7,847.2 1562.5,842.3 1563.2,839.3 1564,834.7 1564.8,843.7 1565.6,831.7 1566.4,831.7 1567.1,832.3 1567.9,826.6 1568.7,829.7 1569.5,826.2 1570.3,819.3 1571,821.1 1571.8,822.6 1572.6,820.5 1573.4,816.4 1574.1,813.7 1574.9,807.9 1575.7,810 1576.5,810.8 1577.3,802.2 1578.1,799.3 1578.8,788.7 1579.6,786.1 1580.4,782 1581.2,771.5 1581.9,774.2 1582.7,769.7 1583.5,756.1 1584.2,756.6 1585,751.7 1585.7,744.3 1586.4,727.7 1587.2,718.2 1587.9,711.1 1588.6,705 1589.4,697.3 1590.1,689.1 1590.9,687.6 1591.7,682.4 1592.4,677.7 1593.2,670 1594,666.3 1594.8,662.8 1595.6,656 1596.3,642.7 1597.1,639.3 1597.9,635 1598.6,629 1599.3,626.2 1600,626.4 1600.7,623.8 1601.4,621 1602.2,625.6 1603,622.5 1603.8,626.6 1604.5,633.4 1605.3,636 1606.1,639.7 1606.9,643.8 1607.6,649.6 1608.4,652.6 1609.2,662 1609.9,666 1610.7,670 1611.5,678.7 1612.3,685.9 1613.1,696.3 1613.8,697.6 1614.6,711.8 1615.4,723.7 1616.2,728.5 1616.9,728.5 1617.7,738.3 1618.5,742.8 1619.2,742.9 1620,751.7 1620.8,756.8 1621.6,762.4 1622.3,770.6 1623.1,776.9 1623.9,780.8 1624.7,786.7 1625.5,787.3 1626.3,792.5 1627,795.8 1627.8,801.3 1628.6,803.1 1629.4,803.2 1630.1,804.4 1630.9,810.5 1631.7,814.7 1632.5,814.6 1633.3,815.5 1634,820.6 1634.8,821.5 1635.6,825.4 1636.4,828.7 1637.1,828 1637.9,838.3 1638.7,833.4 1639.5,833.6 1640.3,839 1641,837.2 1641.8,841.3 1642.6,832 1643.4,838 1644.1,842.2 1644.9,844.4 1645.7,843.7 1646.5,851.5 1647.3,846.2 1648,849.9 1648.8,849.1 1649.6,850.4 1650.4,854 1651.2,847.4 1652,855.5 1652.8,838.8 1653.5,864.4 1654.3,841 1655.1,853 1655.9,856.1 1656.6,877.1 1657.4,851.7 1658.2,854.7 1659,867.7 1659.7,855.6 1660.5,846.8 1661.3,858.9 1662.1,862.8 1662.8,864.6 1663.6,848.7 1664.4,876.8 1665.2,876.3 1665.9,858.5 1666.7,858.7 1667.5,861.8 1668.3,854.3 1669,874.7 1669.8,851.6 1670.6,866.9 1671.4,854.4 1672.1,852.2 1672.9,867.9 1673.7,874.8 1674.5,860.2 1675.2,853 1676,869.5 1676.8,860.2 1677.6,864.3 1678.3,877.8 1679.1,873.7 1679.9,855.6 1680.7,886.6 1681.5,861.7 1682.2,870.5 1683,854.9 1683.8,861.7 1684.6,843.1 1685.3,882.1 1686.1,877.6 1686.9,849.4 1687.7,846.4 1688.4,845.3 1689.2,876.2 1690,863.4 1690.8,858.3 1691.6,862.6 1692.4,859.8 1693.2,861.9 1693.9,851.2 1694.7,863.3 1695.5,847.2 1696.3,862.2 1697.1,866.3 1697.9,868 1698.7,860.3 1699.5,852.8 1700.3,864.5 1701.1,857.3 1701.8,879.8 1702.6,871 1703.4,861.2 1704.2,857.3 1705,854.7 1705.8,852 1706.6,858.4 1707.4,865.5 1708.2,867.9 1708.9,868.4 1709.7,885.2 1710.5,854.3 1711.3,862.1 1712.1,892.7 1712.9,841.3 1713.7,856.1 1714.5,863.6 1715.3,863.4 1716.1,866.1 1716.8,859 1717.6,865.6 1718.4,862.1 1719.2,869.9 1720,861.4 1720.8,840.4 1721.6,851.4 1722.3,861 1723.1,849.5 1723.9,849.2 1724.7,867.5 1725.4,853.3 1726.2,867.3 1727,868.4 1727.8,863.4 1728.6,865.5 1729.3,858.6 1730.1,844.2 1730.9,859.2 1731.7,864.4 1732.5,853.4 1733.2,858 1734,867.2 1734.8,849.2 1735.6,865.8 1736.3,879.1 1737.1,852.3 1737.9,859.9 1738.7,856.5 1739.5,875 1740.2,861.4 1741,867.6 1741.8,850 1742.6,857.3 1743.3,857.3 1744.1,837.7 1744.9,857.1 1745.7,872.9 1746.5,867 1747.3,837.9 1748.1,865.3 1748.9,855.7 1749.7,862 1750.4,861.1 1751.2,840.6 1752,854.8 1752.8,873.5 1753.6,850.8 1754.4,845.8 1755.2,842.1 1756,843.7 1756.8,860.8 1757.6,875.7 1758.4,861.8 1759.2,859.8 1759.9,881.7 1760.7,851.4 1761.5,849.7 1762.3,862.9 1763.1,863.1 1763.9,845.9 1764.7,844.2 1765.5,860.3 1766.3,859.8 1767.1,842.7 1767.9,854.9 1768.7,851.1 1769.4,862.2 1770.2,855.8 1771,856.2 1771.8,853.2 1772.6,868.7 1773.4,872.4 1774.2,853.1 1775,866.4 1775.8,848.8 1776.6,857.9 1777.4,865.3 1778.2,873.8 1778.9,852.9 1779.7,856.3 1780.5,859.3 1781.3,840.6 1782.1,857.3 1782.9,849.7 1783.7,861.2 1784.5,844.7 1785.3,835.4 1786.1,857.5 1786.9,860 1787.7,851.1 1788.4,866.9 1789.2,854.1 1790,850.4 1790.8,862.4 1791.6,839.8 1792.4,849.6 1793.2,856.9 1794,866.4 1794.8,855.3 1795.6,860.5 1796.4,849.9 1797.2,860.4 1797.9,875.4 1798.7,849.5 1799.5,883.1 1800.3,850 1801.1,857.3 1801.9,859 1802.7,868.4 1803.5,843.5 1804.3,834 1805.1,863.8 1805.9,865.8 1806.7,864 1807.4,886 1808.2,859.4 1809,859.9 1809.8,867.3 1810.6,861.2 1811.4,875.4 1812.2,857.1 1813,843.5 1813.8,853 1814.6,819.3 1815.4,866.1 1816.2,853.1 1817,867.4 1817.7,881 1818.5,857.3 1819.3,854.5 1820.1,851.9 1820.9,848.2 1821.7,850.5 1822.5,864.5 1823.3,857.9 1824.1,858.2 1824.9,855.6 1825.7,867.6 1826.5,863 1827.2,856.1 1828,865 1828.8,856 1829.6,845 1830.4,873.7 1831.2,862.9 1832,847.2 1832.8,869.7 1833.6,861.6 1834.4,840.6 1835.2,875.6 1836,861.6 1836.7,867.7 1837.5,860.1 1838.3,856.3 1839.1,841 1839.9,868.7 1840.7,858.4 1841.5,854.9 1842.3,862 1843.1,859 1843.9,865.6 1844.7,854.1 1845.5,857.8 1846.2,834.7 1847,853.6 1847.8,865.8 1848.6,873 1849.4,854.4 1850.2,857.1 1851,875.8 1851.8,854.9 1852.6,866.6 1853.4,877 1854.2,859 1855,872.1 1855.7,850.8 1856.5,860.9 1857.3,857.8 1858.1,859.9 1858.9,871.1 1859.7,885 1860.5,851.4 1861.3,852.5 1862.1,864.3 1862.9,847.2 1863.7,864.3 1864.5,865.2 1865.2,855.9 1866,864.8 1866.8,841.9 1867.6,867.4 1868.4,842 1869.2,851.4 1870,853 1870.8,854.7 1871.6,868.6 1872.4,860.1 1873.2,854.8 1874,865.2 1874.7,876.6 1875.5,859.3 1876.3,863.3 1877.1,873 1877.9,862.3 1878.7,845.3 1879.5,859.4 1880.3,886.8 1881.1,883.8 1881.9,837.7 1882.7,859.1 1883.4,864.2 1884.2,870.3 1885,867 1885.8,856.7 1886.6,848.2 1887.4,860.9 1888.2,871.2 1889,847.9 1889.7,848.6 1890.5,859.7 1891.3,838.7 1892.1,857.2 1892.9,855.3 1893.7,865.1 1894.5,852.4 1895.3,850.5 1896,855.9 1896.8,859.7 1897.6,853 1898.4,860.5 1899.2,868.6 1900,873.4 1900.8,879.2 1901.6,851.9 1902.3,855.9 1903.1,833.2 1903.9,881.5 1904.7,852.7 1905.5,860.3 1906.3,866.5 1907.1,845.8 1907.9,865.9 1908.6,860.5 1909.4,840.8 1910.2,864.1 1911,874.1 1911.8,840.4 1912.6,869.9 1913.4,863.4 1914.2,866.3 1914.9,866 1915.7,875.5 1916.5,858.8 1917.3,870.9 1918.1,856.8 1918.9,869.3 1919.7,852.4 1920.5,860.2 1921.2,880.5 1922,866.4 1922.8,859.8 1923.6,849 1924.4,861.6 1925.2,852.8 1926,863.6 1926.8,871.7 1927.6,866 1928.3,867 1929.1,860.7 1929.9,875.9 1930.7,856.7 1931.5,854.8 1932.3,870.6 1933.1,861.4 1933.9,857.6 1934.6,854.2 1935.4,857.7 1936.2,867.3 1937,864.2 1937.8,847 1938.6,864.9 1939.4,862.1 1940.2,849 1940.9,868.4 1941.7,856.8 1942.5,856.1 1943.3,868.5 1944.1,874.2 1944.9,852 1945.7,864.3 1946.5,849.8 1947.2,884.8 1948,853.8 1948.8,872.3 1949.6,852 1950.4,867.9 1951.2,883.3 1952,830.9 1952.8,854 1953.5,864.2 1954.3,857.6 1955.1,851.2 1955.9,882.1 1956.7,859.2 1957.5,840.2 1958.3,867.6 1959.1,839.2 1959.8,870.7 1960.6,851.6 1961.4,859.5 1962.2,871.7 1963,859 1963.8,842.4 1964.6,838.9 1965.4,870.5 1966.1,865.6 1966.9,848.4 1967.7,866.7 1968.5,862.6 1969.3,857.1 1970.1,864.3 1970.9,832.4 1971.7,854 1972.5,867.3 1973.2,865.6 1974,867.3 1974.8,830.6 1975.6,859.6 1976.4,863.2 1977.2,886 1978,847.5 1978.8,854.4 1979.5,858.5 1980.3,868 1981.1,853.4 1981.9,871 1982.7,849.8 1983.5,861.5 1984.3,852.8 1985.1,860.4 1985.8,851.2 1986.6,841.3 1987.4,870.9 1988.2,862.3 1989,852.9 1989.8,861.4 1990.6,870.1 1991.4,848.6 1992.1,858.2 1992.9,865.4 1993.7,865.3 1994.5,855.9 1995.3,836.5 1996.1,873.5 1996.9,863.5 1997.7,860.1 1998.4,857 1999.2,863 2000,855.5 2000.8,849 2001.6,852.2 2002.4,853.9 2003.2,853.8 2004,847.8 2004.7,867.7 2005.5,846.3 2006.3,868.1 2007.1,849.7 2007.9,864.8 2008.7,876.2 2009.5,863.4 2010.3,853.2 2011,861.8 2011.8,863 2012.6,842.4 2013.4,854.8 2014.2,861.6 2015,863.3 2015.8,856.2 2016.6,862.1 2017.4,869.2 2018.1,869.4 2018.9,870.9 2019.7,867.3 2020.5,857.5 2021.3,860.3 2022.1,857.4 2022.9,856.9 2023.7,858.2 2024.4,841.1 2025.2,856.3 2026,859.6 2026.8,849 2027.6,859.3 2028.4,865.2 2029.2,857.6 2030,882.1 2030.7,830.5 2031.5,856.7 2032.3,838.8 2033.1,869.6 2033.9,887.9 2034.7,831 2035.5,859.8 2036.3,864 2037,854.9 2037.8,864.1 2038.6,833.3 2039.4,867.2 2040.2,861.8 2041,857.9 2041.8,851 2042.6,864.4 2043.3,851.9 2044.1,859.6 2044.9,851.4 2045.7,832.2 2046.5,856.4 2047.3,858.9 2048.1,864.8 2048.9,846.8 2049.6,855.9 2050.4,863 2051.2,857.7 2052,869.6 2052.8,877.7 2053.6,845.7 2054.4,834.5 2055.2,864.9 2055.9,872.2 2056.7,865.4 2057.5,864.1 2058.3,848.2 2059.1,854.9 2059.9,847.1 2060.7,864.8 2061.5,845.1 2062.3,835.3 2063,844.3 2063.8,882.8 2064.6,876.6 2065.4,848 2066.2,847.6 2067,858.2 2067.8,847.5 2068.6,870.3 2069.3,855.1 2070.1,844.1 2070.9,870.5 2071.7,849.7 2072.5,858.7 2073.3,856.2 2074.1,852.9 2074.9,860.1 2075.6,848.9 2076.4,836.3 2077.2,832.4 2078,842.9 2078.8,848.5 2079.6,856.7 2080.4,857.6 2081.2,863.2 2081.9,858.5 2082.7,848.5 2083.5,849.5 2084.3,834.1 2085.1,855.6 2085.9,862.9 2086.7,863.5 2087.5,856.4 2088.2,855.9 2089,868.2 2089.8,858.1 2090.6,866.2 2091.4,864.5 2092.2,860.6 2093,872.7 2093.8,852.1 2094.5,854.5 2095.3,849.6 2096.1,849.8 2096.9,875.8 2097.7,878.1 2098.5,859.1 2099.3,865.2 2100.1,871.9 2100.8,868 2101.6,872.4 2102.4,845.3 2103.2,852.3 2104,859.4 2104.8,864.3 2105.6,875.1 2106.4,860.4 2107.1,849.8 2107.9,855.3 2108.7,851.9 2109.5,849.7 2110.3,875.6 2111.1,852.2 2111.9,859.2 2112.6,882.7 2113.4,871.9 2114.2,862.6 2115,852.1 2115.8,863.3 2116.6,876.6 2117.4,865.6 2118.1,872.6 2118.9,859.7 2119.7,864.3 2120.5,856.3 2121.3,863.2 2122.1,872.8 2122.9,842.7 2123.6,857.7 2124.4,861 2125.2,852 2126,854.9 2126.8,866.9 2127.6,880.2 2128.4,865.1 2129.2,861.7 2129.9,841 2130.7,879.2 2131.5,858.8 2132.3,857.6 2133.1,845.6 2133.9,857.2 2134.7,845.8 2135.4,858.6 2136.2,862.9 2137,858 2137.8,860.7 2138.6,848.3 2139.4,873.3 2140.2,850.4 2140.9,837.5 2141.7,855.4 2142.5,849 2143.3,846.3 2144.1,853.4 2144.9,860.5 2145.7,844.3 2146.4,855.7 2147.2,872.9 2148,864.7 2148.8,857.1 2149.6,855.5 2150.4,858.7 2151.2,856.1 2152,857 2152.8,865.7 2153.6,856.7 2154.4,831.4 2155.2,857.7 2156,848.2 2156.8,865.3 2157.6,851.5 2158.4,860 2159.1,882.4 2159.9,847 2160.7,846.3 2161.5,843.2 2162.3,832.5 2163.1,838.3 2163.9,863 2164.7,852.1 2165.5,838.7 2166.3,843 2167.1,866.2 2167.9,851 2168.7,855.6 2169.5,863.4 2170.3,874.8 2171.1,881.3 2171.9,871.4 2172.7,861.7 2173.5,862.3 2174.3,880.2 2175.1,876.2 2175.9,857.2 2176.7,865.7 2177.4,863.9 2178.2,861.5 2179,855.5 2179.8,846.5 2180.6,855.3 2181.4,844.3 2182.2,874.8 2183,867.4 2183.8,848.3 2184.6,877 2185.4,871.6 2186.2,840.9 2187,862" stroke="#ff8a00" stroke-width="5.5"/>
<path d="M1212.8,1119 1214.3,1118.8 1215.8,1121.4 1217.3,1118.3 1218.8,1117.5 1220.3,1115.9 1221.8,1114.6 1223.3,1113.2 1224.9,1113.5 1226.4,1111.6 1228,1109.7 1229.6,1108.7 1231.1,1107.5 1232.7,1108.5 1234.1,1112.1 1235.5,1115.7 1236.9,1120.4 1238.3,1121.6 1239.7,1123.7 1241.2,1128.2 1242.8,1132.8 1244.3,1135.4 1245.8,1134.4 1247.2,1130.2 1248.7,1133.8 1250.2,1130.1 1251.6,1130.1 1253.1,1128.1 1254.5,1132.1 1256,1126 1257.5,1124.6 1259.1,1119.9 1260.7,1113.8 1262.2,1113.6 1263.8,1107.2 1265.3,1105 1266.7,1109.9 1268.1,1108.3 1269.5,1113.4 1270.9,1117.9 1272.3,1119 1273.8,1116 1275.2,1115.9 1276.7,1114.2 1278.2,1113.7 1279.6,1109.6 1281.1,1109.8 1282.5,1110.4 1284,1105 1285.4,1106.5 1286.8,1111.2 1288.2,1117.2 1289.6,1119.1 1291,1123.7 1292.6,1123.4 1294.1,1129.8 1295.7,1130.7 1297.3,1132.7 1298.8,1134.5 1300.4,1134.2 1302,1132.7 1303.5,1127.2 1305.1,1121.7 1306.6,1123.6 1308.2,1118 1309.7,1116.7 1311.1,1118.9 1312.5,1121.3 1313.9,1120.4 1315.3,1123.8 1316.7,1126 1318.2,1127.6 1319.8,1124.4 1321.3,1118.9 1322.9,1119.7 1324.5,1118.5 1326,1116.7 1327.4,1113.6 1328.7,1109.6 1330.1,1104 1331.5,1099.4 1332.8,1097 1334.2,1091 1335.7,1095.8 1337.1,1107.1 1338.5,1112.8 1340,1119 1341.5,1122.5 1343,1126.4 1344.4,1131.9 1345.9,1135.4 1347.3,1126.6 1348.7,1118.6 1350.1,1116.6 1351.5,1111.8 1352.9,1102.7 1354.2,1103 1355.6,1103.7 1357,1104 1358.3,1102.8 1359.7,1105.4 1361,1105 1362.4,1111.6 1363.8,1115.5 1365.2,1122.1 1366.6,1124 1368,1130.7 1369.5,1129.5 1370.9,1126.1 1372.4,1124.8 1373.8,1124.3 1375.3,1122.3 1376.8,1121.7 1378.2,1119.7 1379.7,1116.7 1381.2,1112.5 1382.6,1114.3 1384.1,1107.2 1385.6,1107.3 1387,1105.6 1388.5,1102.6 1389.9,1101.2 1391.4,1098 1392.9,1103.1 1394.3,1106.3 1395.8,1114.3 1397.2,1117.8 1398.7,1121.3 1400.1,1127.9 1401.5,1132.7 1403,1137.7 1404.4,1133.9 1405.9,1127.9 1407.3,1124.8 1408.7,1119.8 1410.2,1118.3 1411.6,1110.6 1413,1108.9 1414.5,1102.3 1415.9,1098 1417.2,1103.8 1418.6,1109.6 1420,1109.1 1421.3,1113.8 1422.7,1116 1424,1121.4 1425.5,1115.9 1427,1111.7 1428.4,1108.4 1429.9,1103.9 1431.4,1112.7 1432.8,1119.9 1434.2,1124.9 1435.7,1133 1437.1,1130.4 1438.5,1125 1439.9,1125.6 1441.3,1121.4 1442.7,1119 1444.1,1121 1445.5,1125.3 1446.9,1131.2 1448.3,1134.1 1449.7,1137.7 1451.2,1133.9 1452.8,1127.2 1454.3,1123.4 1455.9,1117.8 1457.5,1110.9 1459,1108.5 1460.6,1108.6 1462.1,1109.1 1463.7,1108.6 1465.3,1111.4 1466.8,1114 1468.4,1110.9 1469.9,1115.7 1471.4,1116 1472.9,1116.5 1474.4,1120.6 1475.9,1122.4 1477.4,1126.2 1478.9,1128.4 1480.4,1127 1481.9,1121.6 1483.4,1116.1 1484.9,1117.2 1486.4,1111.8 1487.9,1110.6 1489.4,1105 1491,1104 1492.5,1109.9 1494.1,1104.2 1495.6,1106.8 1497.2,1108.3 1498.7,1107.4 1500.3,1108.2 1501.8,1116.2 1503.4,1122.5 1504.9,1114.1 1506.5,1113.6 1508,1105 1509.4,1110 1510.7,1111.2 1512.1,1113.9 1513.5,1117.8 1514.8,1124.8 1516.2,1128.4 1517.7,1121.7 1519.2,1118.3 1520.7,1111.5 1522.2,1104.3 1523.7,1104.6 1525.2,1097.1 1526.7,1091 1528.3,1098.4 1529.8,1107.6 1531.4,1116.7 1533,1114 1534.5,1108.3 1536.1,1100.1 1537.6,1099.6 1539.2,1091.4 1540.7,1087.5 1542.2,1089 1543.8,1086.7 1545.3,1088.2 1546.9,1091.1 1548.5,1088.5 1550,1091 1551.4,1090.2 1552.8,1089.8 1554.3,1087.2 1555.7,1089.7 1557.1,1086.4 1558.5,1084.2 1559.9,1079.6 1561.2,1078.2 1562.6,1075.5 1564,1070 1565.2,1068.2 1566.4,1062.1 1567.6,1058.4 1568.8,1048 1569.9,1035.7 1571.1,1023.4 1572.6,1010.7 1574.2,1001 1575.7,990.7 1577.3,987.8 1578.8,976.9 1580.4,972 1581.6,951.8 1582.7,930 1584.3,931.2 1585.8,926.3 1587.4,925.3 1588.6,914.4 1589.7,902.4 1590.9,892.7 1592.5,890.8 1594,885.2 1595.6,884.5 1596.8,891.1 1597.9,894.8 1599.1,902 1600.5,905.8 1601.9,905.7 1603.3,910 1604.7,916.6 1606.1,918.3 1607.6,930.9 1609.2,936.7 1610.7,953.3 1611.9,978 1613.1,997.7 1614.5,999.3 1616,1005 1617.5,1008.1 1618.9,1009.4 1620.5,1015.3 1622,1021.2 1623.6,1028 1625,1034.2 1626.5,1047.4 1628,1059.1 1629.4,1065.4 1631,1071.1 1632.5,1082.8 1634.1,1088.7 1635.6,1088.4 1637.2,1087.1 1638.8,1082.3 1640.3,1082.3 1641.9,1081.4 1643.4,1079.4 1645,1083.3 1646.5,1080.2 1648.1,1082 1649.6,1082.8 1651.2,1086.6 1652.7,1086.4 1654.1,1082.4 1655.5,1083.3 1656.9,1080.1 1658.3,1080.2 1659.7,1079.4 1661.3,1086.1 1662.8,1089.4 1664.4,1095.7 1665.8,1100.6 1667.2,1102.4 1668.6,1106.8 1670,1110.4 1671.4,1114.4 1672.8,1110.6 1674.2,1110.4 1675.6,1108.4 1677,1103.7 1678.4,1102.7 1679.8,1106.6 1681.2,1108.4 1682.6,1110.4 1684,1114.1 1685.4,1116.7 1686.8,1116.2 1688.2,1114.2 1689.6,1113.5 1691,1109.7 1692.4,1107.4 1693.8,1108.6 1695.2,1106.8 1696.6,1109.3 1698,1112 1699.4,1112 1701,1107.6 1702.6,1105.3 1704.2,1107.2 1705.8,1101.5 1707.4,1097.3 1709,1096.5 1710.5,1101.3 1712,1111.5 1713.5,1121.2 1714.8,1120.9 1716.2,1113.1 1717.5,1110 1718.9,1106.1 1720.2,1101 1721.7,1100.9 1723.2,1103 1724.7,1103.3 1726.2,1103.4 1727.7,1106.4 1729.2,1105.5 1730.5,1107.7 1731.9,1111.4 1733.2,1115.2 1734.6,1121.8 1735.9,1123.4 1737.2,1124.4 1738.6,1129.9 1739.9,1126.6 1741.3,1129 1742.6,1132.4 1744,1122.7 1745.3,1120.1 1746.7,1116.4 1748,1112 1749.4,1105.5 1750.9,1103.6 1752.4,1104.1 1753.9,1107 1755.4,1103.7 1756.8,1104.3 1758.3,1105 1759.8,1102.1 1761.3,1105.4 1762.8,1103.2 1764.3,1111.1 1765.8,1120.9 1767.3,1127.9 1768.7,1124.7 1770,1122.9 1771.4,1121.8 1772.7,1117.5 1774.1,1114.5 1775.6,1110.1 1777.2,1111.2 1778.7,1109.6 1780.2,1108.5 1781.8,1107.7 1783.3,1103.4 1784.9,1107.4 1786.4,1103.2 1787.8,1107.7 1789.2,1117 1790.6,1120.3 1792,1126.8 1793.6,1123.4 1795.1,1120.9 1796.7,1117.8 1798.3,1116.4 1799.8,1114.7 1801.4,1112.8 1803,1110.1 1804.6,1102.3 1806.1,1102.5 1807.7,1098.7 1809.1,1103.9 1810.4,1107.5 1811.8,1112.7 1813.1,1116.7 1814.5,1121.2 1816,1121.4 1817.5,1123.9 1819,1128.9 1820.4,1129.3 1821.9,1133.6 1823.4,1133.5 1824.8,1126.3 1826.3,1119.7 1827.7,1114.4 1829.2,1108 1830.6,1102.9 1832.1,1094.1 1833.5,1088.6 1834.9,1096.8 1836.2,1103.1 1837.6,1108 1838.9,1116.1 1840.3,1123.4 1841.8,1119 1843.3,1116.8 1844.8,1113 1846.2,1108 1847.7,1101.9 1849.2,1098.7 1850.7,1107.3 1852.2,1113.9 1853.7,1121.2 1855.2,1113.9 1856.7,1109.6 1858.2,1102.1 1859.6,1104.5 1861.1,1109 1862.5,1111.5 1864,1114.6 1865.4,1121.1 1866.9,1121.6 1868.3,1127.9 1869.6,1122.1 1871,1117.9 1872.3,1114.5 1873.7,1108 1875,1104.4 1876.5,1108.4 1878,1108.8 1879.5,1111.7 1881,1114.5 1882.5,1117.9 1884,1120.4 1885.5,1122.2 1887,1126.1 1888.5,1130.2 1889.8,1125 1891.2,1124.2 1892.5,1117 1893.9,1115.4 1895.2,1111.1 1896.7,1109.8 1898.2,1112.8 1899.7,1111.4 1901.2,1110.9 1902.7,1113.8 1904.2,1112.2 1905.3,1103.3 1906.5,1092.1 1907.6,1078.5 1909.1,1086 1910.6,1090.6 1912.1,1096.5 1913.4,1093.6 1914.8,1092.1 1916.1,1090.2 1917.5,1090.1 1918.8,1087.5 1919.8,1071.5 1920.7,1057 1922.3,1026 1923.4,1013.3 1924.5,1000 1925.7,997.8 1926.9,995 1928.2,997.3 1929.5,1000 1930.8,1011.9 1932,1026 1933.3,1031.6 1934.7,1044.7 1936,1048 1937.3,1050.3 1938.6,1050.4 1939.8,1053.5 1941.1,1057 1942.4,1060.6 1943.7,1064.4 1945.1,1062.6 1946.4,1061.8 1947.8,1067 1949.1,1065.1 1950.6,1068.8 1952.1,1080.4 1953.6,1085.3 1954.9,1090.7 1956.3,1087.1 1957.6,1089.6 1959,1090 1960.3,1089.8 1961.7,1084.6 1963.1,1089.2 1964.5,1087.2 1965.9,1083.1 1967.3,1088.4 1968.7,1085.5 1970.1,1086.4 1971.5,1085.3 1972.9,1088.7 1974.2,1089.7 1975.6,1089.5 1976.9,1095.3 1978.3,1098.7 1979.8,1097.8 1981.3,1097.5 1982.8,1098.5 1984.3,1100.2 1985.8,1103.1 1987.3,1101 1988.7,1096.9 1990.1,1093 1991.5,1090.1 1992.9,1084.2 1994.5,1086.5 1996,1086.9 1997.6,1087.8 1999.1,1088.5 2000.7,1092 2002.1,1097.5 2003.4,1099.9 2004.8,1106.1 2006.1,1106.9 2007.5,1112.2 2008.8,1108.1 2010.2,1106.6 2011.5,1105.2 2012.9,1099.3 2014.2,1096.5 2015.7,1099.2 2017.2,1104.8 2018.7,1105.5 2020.2,1113.3 2021.7,1113.1 2023.2,1118.9 2024.7,1113.2 2026.2,1112.7 2027.7,1108.5 2029.1,1108.4 2030.6,1104.3 2032.1,1099.9 2033.7,1104.2 2035.3,1103.7 2036.8,1110.5 2038.4,1112.8 2040,1117.8 2041.3,1111.2 2042.7,1114 2044,1104.6 2045.4,1102.7 2046.7,1101 2048.1,1100.2 2049.6,1101.2 2051,1103.1 2052.5,1104.2 2053.9,1102.1 2055.4,1105.5 2056.8,1105.5 2058.3,1104.6 2059.8,1102.2 2061.3,1102.4 2062.8,1097.2 2064.3,1095.6 2065.8,1094.3 2067.3,1099.8 2068.8,1105.1 2070.3,1113.3 2071.9,1111 2073.5,1110.9 2075.1,1107.9 2076.7,1104.9 2078.3,1103.1 2079.9,1102.9 2081.5,1098.7 2083.1,1099 2084.7,1092.4 2086.3,1091.7 2087.9,1093.9 2089.5,1091.9 2091.1,1090.2 2092.7,1087.5 2094.1,1094.4 2095.4,1096.4 2096.8,1101.7 2098.1,1109.8 2099.5,1114.5 2100.8,1113.8 2102.2,1117.3 2103.5,1121.8 2104.9,1117 2106.2,1121.2 2107.5,1118.9 2108.9,1117.5 2110.2,1113.8 2111.6,1107.9 2112.9,1105.5 2114.3,1106.2 2115.7,1110 2117.1,1110.1 2118.6,1114.7 2120,1116.1 2121.4,1118.4 2122.8,1122.4 2124.2,1123.4 2125.7,1120.4 2127.2,1116.4 2128.7,1114.1 2130.2,1111 2131.6,1108 2133.1,1104.7 2134.6,1103.8 2136.1,1098.8 2137.6,1096.5 2139.1,1101.9 2140.6,1105 2142.1,1109.3 2143.6,1112.1 2145.1,1113 2146.6,1118.9 2148.1,1120.5 2149.6,1113.7 2151.1,1112.2 2152.7,1113.8 2154.2,1119.2 2155.8,1122.5 2157.3,1122.4 2158.9,1129 2160.5,1121.5 2162.1,1118.1 2163.6,1112.8 2165.2,1106.6 2166.8,1103.2 2168.1,1106.1 2169.5,1112.1 2170.8,1115 2172.2,1121.8 2173.5,1125.7 2174.9,1122.4 2176.3,1117.5 2177.7,1117.4 2179.1,1111.1 2180.7,1117.8 2182.3,1117.2 2183.8,1123.7 2185.4,1130.4 2187,1132.4" stroke="#ff0000" stroke-width="5.8"/>
</g>
<path d="M45.5,1217 V1231 H1022.3 V1217" fill="none" stroke="#000" stroke-width="8" stroke-linejoin="round" stroke-linecap="round"/>
<line x1="289.7" y1="1216.7" x2="289.7" y2="1231" stroke="#000" stroke-width="7.5" stroke-linecap="round"/>
<line x1="533.9" y1="1216.7" x2="533.9" y2="1231" stroke="#000" stroke-width="7.5" stroke-linecap="round"/>
<line x1="778.1" y1="1216.7" x2="778.1" y2="1231" stroke="#000" stroke-width="7.5" stroke-linecap="round"/>
<line x1="167.6" y1="1225" x2="167.6" y2="1231" stroke="#000" stroke-width="7" stroke-linecap="round"/>
<line x1="411.8" y1="1225" x2="411.8" y2="1231" stroke="#000" stroke-width="7" stroke-linecap="round"/>
<line x1="656" y1="1225" x2="656" y2="1231" stroke="#000" stroke-width="7" stroke-linecap="round"/>
<line x1="900.2" y1="1225" x2="900.2" y2="1231" stroke="#000" stroke-width="7" stroke-linecap="round"/>
<text x="44" y="1283.3" text-anchor="middle" font-size="47.5" textLength="80.2" lengthAdjust="spacingAndGlyphs">120</text>
<text x="290" y="1283.3" text-anchor="middle" font-size="47.5" textLength="52.4" lengthAdjust="spacingAndGlyphs">80</text>
<text x="534.2" y="1283.3" text-anchor="middle" font-size="47.5" textLength="52.4" lengthAdjust="spacingAndGlyphs">40</text>
<text x="778.4" y="1283.3" text-anchor="middle" font-size="47.5" textLength="26.7" lengthAdjust="spacingAndGlyphs">0</text>
<text x="1022.6" y="1283.3" text-anchor="middle" font-size="47.5" textLength="69.8" lengthAdjust="spacingAndGlyphs">-40</text>
<path d="M1212.5,1217 V1231 H2189.3 V1217" fill="none" stroke="#000" stroke-width="8" stroke-linejoin="round" stroke-linecap="round"/>
<line x1="1456.7" y1="1216.7" x2="1456.7" y2="1231" stroke="#000" stroke-width="7.5" stroke-linecap="round"/>
<line x1="1700.9" y1="1216.7" x2="1700.9" y2="1231" stroke="#000" stroke-width="7.5" stroke-linecap="round"/>
<line x1="1945.1" y1="1216.7" x2="1945.1" y2="1231" stroke="#000" stroke-width="7.5" stroke-linecap="round"/>
<line x1="1334.6" y1="1225" x2="1334.6" y2="1231" stroke="#000" stroke-width="7" stroke-linecap="round"/>
<line x1="1578.8" y1="1225" x2="1578.8" y2="1231" stroke="#000" stroke-width="7" stroke-linecap="round"/>
<line x1="1823" y1="1225" x2="1823" y2="1231" stroke="#000" stroke-width="7" stroke-linecap="round"/>
<line x1="2067.2" y1="1225" x2="2067.2" y2="1231" stroke="#000" stroke-width="7" stroke-linecap="round"/>
<text x="1210.2" y="1283.3" text-anchor="middle" font-size="47.5" textLength="80.2" lengthAdjust="spacingAndGlyphs">120</text>
<text x="1457" y="1283.3" text-anchor="middle" font-size="47.5" textLength="52.4" lengthAdjust="spacingAndGlyphs">80</text>
<text x="1701.2" y="1283.3" text-anchor="middle" font-size="47.5" textLength="52.4" lengthAdjust="spacingAndGlyphs">40</text>
<text x="1945.4" y="1283.3" text-anchor="middle" font-size="47.5" textLength="26.7" lengthAdjust="spacingAndGlyphs">0</text>
<text x="2189.6" y="1283.3" text-anchor="middle" font-size="47.5" textLength="69.8" lengthAdjust="spacingAndGlyphs">-40</text>
<text x="48.9" y="333.4" font-size="48.5" fill="#0000ff" textLength="168.5" lengthAdjust="spacingAndGlyphs">MOR-AS</text>
<text x="48.4" y="584.4" font-size="48.5" fill="#008000" textLength="144.3" lengthAdjust="spacingAndGlyphs">MOR-T</text>
<text x="48.4" y="834.9" font-size="48.5" fill="#ff8a00" textLength="174.8" lengthAdjust="spacingAndGlyphs">MOR-TH</text>
<text x="48.4" y="1084.4" font-size="48.5" fill="#ff0000" textLength="143" lengthAdjust="spacingAndGlyphs">MOR-P</text>
<text x="1216.5" y="317.1" font-size="48.5" fill="#0000ff" textLength="147.4" lengthAdjust="spacingAndGlyphs">MFI-AS</text>
<text x="1216.5" y="566.7" font-size="48.5" fill="#008000" textLength="123.2" lengthAdjust="spacingAndGlyphs">MFI-T</text>
<text x="1216.5" y="817.1" font-size="48.5" fill="#ff8a00" textLength="154.6" lengthAdjust="spacingAndGlyphs">MFI-TH</text>
<text x="1216.5" y="1067.6" font-size="48.5" fill="#ff0000" textLength="121.4" lengthAdjust="spacingAndGlyphs">MFI-P</text>
<text x="193.6" y="1347.6" font-size="40.2" textLength="41" lengthAdjust="spacingAndGlyphs">27</text>
<text x="234.5" y="1378.6" font-size="66" textLength="56" lengthAdjust="spacingAndGlyphs">Al</text>
<text x="306.8" y="1378.6" font-size="66" textLength="241.5" lengthAdjust="spacingAndGlyphs">chemical</text>
<text x="565.1" y="1378.6" font-size="66" textLength="121" lengthAdjust="spacingAndGlyphs">shift</text>
<text x="703" y="1378.6" font-size="66" textLength="170" lengthAdjust="spacingAndGlyphs">(ppm)</text>
<text x="1360.6" y="1347.6" font-size="40.2" textLength="41" lengthAdjust="spacingAndGlyphs">27</text>
<text x="1401.5" y="1378.6" font-size="66" textLength="56" lengthAdjust="spacingAndGlyphs">Al</text>
<text x="1473.8" y="1378.6" font-size="66" textLength="241.5" lengthAdjust="spacingAndGlyphs">chemical</text>
<text x="1732.1" y="1378.6" font-size="66" textLength="121" lengthAdjust="spacingAndGlyphs">shift</text>
<text x="1870" y="1378.6" font-size="66" textLength="170" lengthAdjust="spacingAndGlyphs">(ppm)</text>
<text x="534.4" y="1518" font-size="78.8" text-anchor="middle" textLength="85.5" lengthAdjust="spacingAndGlyphs">(<tspan font-weight="bold">a</tspan>)</text>
<text x="1701.2" y="1518" font-size="78.8" text-anchor="middle" textLength="96.5" lengthAdjust="spacingAndGlyphs">(<tspan font-weight="bold">b</tspan>)</text>
</svg>
</body></html>
